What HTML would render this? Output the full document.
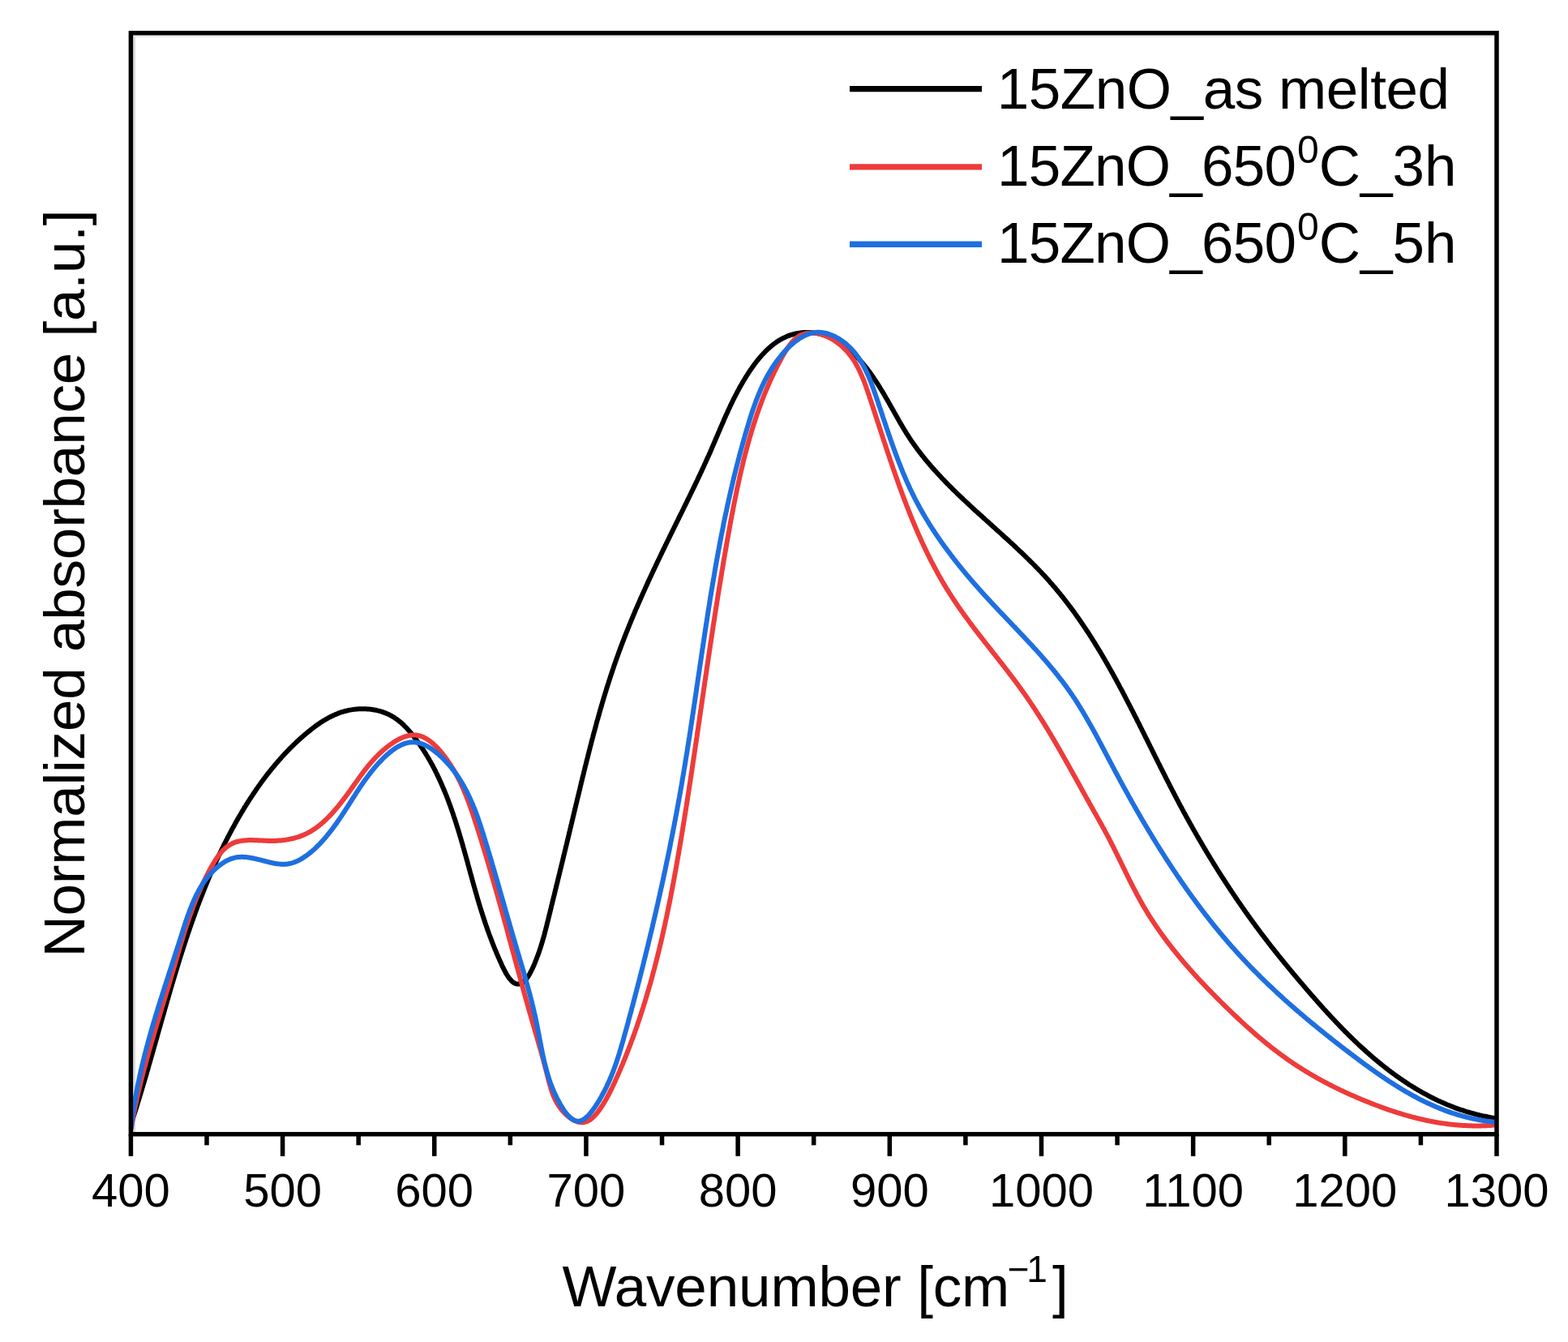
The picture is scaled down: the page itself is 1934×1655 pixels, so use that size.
<!DOCTYPE html>
<html><head><meta charset="utf-8"><title>Normalized absorbance vs wavenumber</title>
<style>
html,body{margin:0;padding:0;background:#fff;}
body{width:1934px;height:1655px;overflow:hidden;}
svg{display:block;}
text{font-family:"Liberation Sans",Arial,Helvetica,sans-serif;fill:#000;}
</style></head><body>
<svg xmlns="http://www.w3.org/2000/svg" width="1934" height="1655" viewBox="0 0 1934 1655">
<rect width="1934" height="1655" fill="#fff"/>
<g fill="none">
<line x1="165.6" y1="43.4" x2="165.6" y2="1396" stroke="#dddddd" stroke-width="3"/>
<line x1="164" y1="44.6" x2="1843" y2="44.6" stroke="#e8e8e8" stroke-width="2.2"/>
</g>
<g fill="none" stroke-linejoin="round" stroke-linecap="butt" stroke-width="6.0">
<path stroke="#000" d="M161.8 1385.7L162.3 1384.3L162.8 1382.9L163.2 1381.5L163.7 1380.1L164.1 1378.7L164.6 1377.2L165.0 1375.8L165.5 1374.4L165.9 1373.0L166.4 1371.6L166.8 1370.2L167.3 1368.7L167.7 1367.3L168.2 1365.9L168.6 1364.5L169.0 1363.1L169.5 1361.6L169.9 1360.2L170.4 1358.8L170.8 1357.4L171.2 1355.9L171.7 1354.5L172.1 1353.1L172.5 1351.6L173.0 1350.2L173.4 1348.8L173.8 1347.4L174.3 1345.9L174.7 1344.5L175.1 1343.1L175.5 1341.6L176.0 1340.2L176.4 1338.8L176.8 1337.3L177.2 1335.9L177.7 1334.5L178.1 1333.0L178.5 1331.6L178.9 1330.2L179.4 1328.7L179.8 1327.3L180.2 1325.9L180.6 1324.4L181.0 1323.0L181.4 1321.5L181.9 1320.1L182.3 1318.7L182.7 1317.2L183.1 1315.8L183.5 1314.3L183.9 1312.9L184.3 1311.5L184.8 1310.0L185.2 1308.6L185.6 1307.1L186.0 1305.7L186.4 1304.2L186.8 1302.8L187.2 1301.4L187.6 1299.9L188.1 1298.5L188.5 1297.0L188.9 1295.6L189.3 1294.1L189.7 1292.7L190.1 1291.2L190.5 1289.8L190.9 1288.4L191.3 1286.9L191.7 1285.5L192.1 1284.0L192.6 1282.6L193.0 1281.1L193.4 1279.7L193.8 1278.2L194.2 1276.8L194.6 1275.3L195.0 1273.9L195.4 1272.4L195.8 1271.0L196.2 1269.5L196.6 1268.1L197.1 1266.6L197.5 1265.2L197.9 1263.7L198.3 1262.3L198.7 1260.9L199.1 1259.4L199.5 1258.0L199.9 1256.5L200.3 1255.1L200.7 1253.6L201.2 1252.2L201.6 1250.7L202.0 1249.3L202.4 1247.8L202.8 1246.4L203.2 1244.9L203.6 1243.5L204.0 1242.0L204.5 1240.6L204.9 1239.1L205.3 1237.7L205.7 1236.2L206.1 1234.8L206.5 1233.3L207.0 1231.9L207.4 1230.5L207.8 1229.0L208.2 1227.6L208.6 1226.1L209.1 1224.7L209.5 1223.2L209.9 1221.8L210.3 1220.3L210.7 1218.9L211.2 1217.4L211.6 1216.0L212.0 1214.6L212.4 1213.1L212.9 1211.7L213.3 1210.2L213.7 1208.8L214.2 1207.3L214.6 1205.9L215.0 1204.5L215.5 1203.0L215.9 1201.6L216.3 1200.1L216.8 1198.7L217.2 1197.3L217.6 1195.8L218.1 1194.4L218.5 1192.9L219.0 1191.5L219.4 1190.1L219.8 1188.6L220.3 1187.2L220.7 1185.8L221.2 1184.3L221.6 1182.9L222.1 1181.4L222.5 1180.0L223.0 1178.6L223.4 1177.1L223.9 1175.7L224.3 1174.3L224.8 1172.8L225.3 1171.4L225.7 1170.0L226.2 1168.6L226.6 1167.1L227.1 1165.7L227.6 1164.3L228.0 1162.8L228.5 1161.4L229.0 1160.0L229.4 1158.6L229.9 1157.1L230.4 1155.7L230.9 1154.3L231.3 1152.9L231.8 1151.4L232.3 1150.0L232.8 1148.6L233.3 1147.2L233.7 1145.8L234.2 1144.3L234.7 1142.9L235.2 1141.5L235.7 1140.1L236.2 1138.7L236.7 1137.3L237.2 1135.8L237.7 1134.4L238.2 1133.0L238.7 1131.6L239.2 1130.2L239.7 1128.8L240.2 1127.4L240.7 1126.0L241.2 1124.6L241.7 1123.2L242.3 1121.7L242.8 1120.3L243.3 1118.9L243.8 1117.5L244.3 1116.1L244.9 1114.7L245.4 1113.3L245.9 1111.9L246.5 1110.5L247.0 1109.1L247.5 1107.7L248.1 1106.3L248.6 1105.0L249.2 1103.6L249.7 1102.2L250.3 1100.8L250.8 1099.4L251.4 1098.0L251.9 1096.6L252.5 1095.2L253.0 1093.8L253.6 1092.5L254.2 1091.1L254.7 1089.7L255.3 1088.3L255.9 1086.9L256.4 1085.5L257.0 1084.2L257.6 1082.8L258.2 1081.4L258.8 1080.0L259.3 1078.7L259.9 1077.3L260.5 1075.9L261.1 1074.6L261.7 1073.2L262.3 1071.8L262.9 1070.5L263.5 1069.1L264.1 1067.7L264.7 1066.4L265.4 1065.0L266.0 1063.6L266.6 1062.3L267.2 1060.9L267.8 1059.6L268.5 1058.2L269.1 1056.9L269.7 1055.5L270.4 1054.2L271.0 1052.8L271.6 1051.5L272.3 1050.1L272.9 1048.8L273.6 1047.4L274.2 1046.1L274.9 1044.8L275.6 1043.4L276.2 1042.1L276.9 1040.7L277.5 1039.4L278.2 1038.1L278.9 1036.7L279.6 1035.4L280.3 1034.1L280.9 1032.8L281.6 1031.4L282.3 1030.1L283.0 1028.8L283.7 1027.5L284.4 1026.1L285.1 1024.8L285.8 1023.5L286.5 1022.2L287.2 1020.9L288.0 1019.6L288.7 1018.3L289.4 1016.9L290.1 1015.6L290.9 1014.3L291.6 1013.0L292.3 1011.7L293.1 1010.4L293.8 1009.1L294.6 1007.8L295.3 1006.5L296.1 1005.2L296.8 1004.0L297.6 1002.7L298.3 1001.4L299.1 1000.1L299.9 998.8L300.7 997.5L301.4 996.2L302.2 995.0L303.0 993.7L303.8 992.4L304.6 991.1L305.4 989.9L306.2 988.6L307.0 987.3L307.8 986.1L308.6 984.8L309.5 983.6L310.3 982.3L311.1 981.1L311.9 979.8L312.8 978.6L313.6 977.3L314.5 976.1L315.3 974.8L316.1 973.6L317.0 972.4L317.9 971.1L318.7 969.9L319.6 968.7L320.5 967.5L321.3 966.2L322.2 965.0L323.1 963.8L324.0 962.6L324.9 961.4L325.8 960.2L326.7 959.0L327.6 957.8L328.5 956.6L329.4 955.4L330.3 954.2L331.3 953.0L332.2 951.9L333.1 950.7L334.1 949.5L335.0 948.4L336.0 947.2L336.9 946.0L337.9 944.9L338.8 943.7L339.8 942.6L340.8 941.4L341.8 940.3L342.7 939.2L343.7 938.0L344.7 936.9L345.7 935.8L346.7 934.7L347.7 933.6L348.7 932.4L349.7 931.3L350.8 930.2L351.8 929.1L352.8 928.1L353.8 927.0L354.9 925.9L355.9 924.8L357.0 923.7L358.0 922.7L359.1 921.6L360.2 920.6L361.2 919.5L362.3 918.5L363.4 917.4L364.5 916.4L365.6 915.3L366.7 914.3L367.8 913.3L368.9 912.3L370.0 911.3L371.1 910.3L372.2 909.3L373.4 908.3L374.5 907.3L375.7 906.3L376.8 905.3L378.0 904.4L379.1 903.4L380.3 902.4L381.5 901.5L382.6 900.5L383.8 899.6L385.0 898.7L386.2 897.7L387.4 896.8L388.6 895.9L389.8 895.0L391.0 894.1L392.3 893.3L393.5 892.4L394.7 891.6L396.0 890.7L397.3 889.9L398.5 889.1L399.8 888.3L401.1 887.6L402.4 886.8L403.7 886.1L405.0 885.4L406.3 884.7L407.6 884.0L409.0 883.3L410.3 882.7L411.7 882.0L413.0 881.4L414.4 880.8L415.8 880.3L417.2 879.7L418.6 879.2L420.0 878.7L421.4 878.2L422.8 877.8L424.3 877.4L425.7 877.0L427.2 876.6L428.7 876.3L430.1 875.9L431.6 875.6L433.1 875.4L434.6 875.1L436.1 874.9L437.7 874.7L439.2 874.6L440.7 874.4L442.2 874.3L443.7 874.3L445.3 874.2L446.8 874.2L448.3 874.2L449.8 874.2L451.4 874.3L452.9 874.4L454.4 874.5L455.9 874.6L457.4 874.8L458.9 875.0L460.4 875.2L461.9 875.5L463.4 875.7L464.9 876.1L466.3 876.4L467.8 876.8L469.2 877.2L470.6 877.6L472.0 878.1L473.4 878.6L474.8 879.1L476.2 879.6L477.5 880.2L478.9 880.8L480.2 881.5L481.5 882.1L482.8 882.8L484.1 883.6L485.3 884.3L486.5 885.1L487.7 885.9L488.9 886.8L490.1 887.6L491.3 888.5L492.4 889.4L493.6 890.4L494.7 891.3L495.8 892.3L496.9 893.3L498.0 894.3L499.0 895.4L500.1 896.4L501.1 897.5L502.1 898.6L503.1 899.7L504.1 900.8L505.1 901.9L506.1 903.0L507.1 904.2L508.0 905.3L509.0 906.5L509.9 907.7L510.8 908.9L511.7 910.1L512.7 911.3L513.6 912.5L514.4 913.7L515.3 914.9L516.2 916.1L517.1 917.3L517.9 918.6L518.8 919.8L519.6 921.1L520.5 922.3L521.3 923.6L522.1 924.8L522.9 926.1L523.7 927.3L524.5 928.6L525.3 929.9L526.1 931.2L526.9 932.5L527.7 933.8L528.4 935.1L529.2 936.4L529.9 937.7L530.7 939.0L531.4 940.3L532.1 941.6L532.9 942.9L533.6 944.2L534.3 945.6L535.0 946.9L535.7 948.2L536.4 949.6L537.0 950.9L537.7 952.3L538.4 953.6L539.0 955.0L539.7 956.3L540.3 957.7L541.0 959.1L541.6 960.4L542.3 961.8L542.9 963.2L543.5 964.6L544.1 965.9L544.7 967.3L545.3 968.7L545.9 970.1L546.5 971.5L547.1 972.9L547.7 974.3L548.3 975.7L548.9 977.1L549.4 978.5L550.0 979.9L550.6 981.3L551.1 982.7L551.7 984.1L552.2 985.5L552.7 986.9L553.3 988.4L553.8 989.8L554.3 991.2L554.9 992.6L555.4 994.1L555.9 995.5L556.4 996.9L556.9 998.3L557.4 999.8L557.9 1001.2L558.4 1002.6L558.9 1004.1L559.4 1005.5L559.8 1006.9L560.3 1008.4L560.8 1009.8L561.3 1011.2L561.7 1012.7L562.2 1014.1L562.7 1015.6L563.1 1017.0L563.6 1018.4L564.0 1019.9L564.5 1021.3L564.9 1022.8L565.4 1024.2L565.8 1025.6L566.2 1027.1L566.7 1028.5L567.1 1030.0L567.5 1031.4L568.0 1032.9L568.4 1034.3L568.8 1035.7L569.2 1037.2L569.6 1038.6L570.1 1040.0L570.5 1041.5L570.9 1042.9L571.3 1044.4L571.7 1045.8L572.1 1047.2L572.5 1048.7L572.9 1050.1L573.3 1051.5L573.7 1053.0L574.1 1054.4L574.5 1055.8L574.9 1057.2L575.3 1058.7L575.7 1060.1L576.1 1061.5L576.5 1062.9L576.9 1064.3L577.2 1065.8L577.6 1067.2L578.0 1068.6L578.4 1070.0L578.8 1071.4L579.2 1072.8L579.6 1074.2L579.9 1075.7L580.3 1077.1L580.7 1078.5L581.1 1079.9L581.5 1081.3L581.9 1082.7L582.3 1084.1L582.6 1085.5L583.0 1086.9L583.4 1088.3L583.8 1089.7L584.2 1091.2L584.6 1092.6L585.0 1094.0L585.4 1095.4L585.8 1096.8L586.2 1098.2L586.6 1099.6L587.0 1101.0L587.4 1102.4L587.8 1103.8L588.2 1105.2L588.6 1106.6L589.0 1108.1L589.4 1109.5L589.9 1110.9L590.3 1112.3L590.7 1113.7L591.1 1115.1L591.6 1116.6L592.0 1118.0L592.4 1119.4L592.9 1120.8L593.3 1122.2L593.8 1123.7L594.2 1125.1L594.7 1126.5L595.1 1127.9L595.6 1129.4L596.0 1130.8L596.5 1132.2L597.0 1133.7L597.5 1135.1L597.9 1136.5L598.4 1138.0L598.9 1139.4L599.4 1140.9L599.9 1142.3L600.4 1143.8L600.9 1145.2L601.4 1146.7L601.9 1148.1L602.5 1149.6L603.0 1151.1L603.5 1152.5L604.1 1154.0L604.6 1155.5L605.2 1156.9L605.7 1158.4L606.3 1159.9L606.9 1161.4L607.4 1162.9L608.0 1164.3L608.6 1165.8L609.2 1167.3L609.8 1168.8L610.4 1170.3L611.0 1171.8L611.7 1173.3L612.3 1174.8L612.9 1176.4L613.6 1177.9L614.2 1179.4L614.9 1180.9L615.6 1182.5L616.2 1184.0L616.9 1185.5L617.6 1187.1L618.3 1188.6L619.0 1190.2L619.7 1191.7L620.4 1193.2L621.2 1194.7L621.9 1196.2L622.7 1197.6L623.4 1199.0L624.2 1200.4L625.0 1201.7L625.8 1203.0L626.6 1204.3L627.4 1205.4L628.3 1206.6L629.1 1207.6L630.0 1208.6L630.8 1209.5L631.7 1210.4L632.6 1211.1L633.5 1211.8L634.4 1212.3L635.4 1212.8L636.3 1213.2L637.3 1213.4L638.3 1213.6L639.2 1213.6L640.2 1213.6L641.2 1213.4L642.1 1213.1L643.1 1212.7L644.0 1212.2L644.9 1211.5L645.8 1210.8L646.7 1210.0L647.6 1209.1L648.4 1208.2L649.3 1207.1L650.1 1206.0L651.0 1204.8L651.8 1203.6L652.6 1202.3L653.4 1200.9L654.1 1199.5L654.9 1198.1L655.6 1196.6L656.4 1195.1L657.1 1193.6L657.8 1192.1L658.4 1190.5L659.1 1189.0L659.8 1187.4L660.4 1185.8L661.0 1184.3L661.6 1182.7L662.2 1181.2L662.8 1179.7L663.4 1178.1L663.9 1176.6L664.5 1175.1L665.0 1173.6L665.5 1172.1L666.0 1170.6L666.5 1169.1L667.0 1167.6L667.4 1166.1L667.9 1164.7L668.3 1163.2L668.8 1161.7L669.2 1160.3L669.6 1158.8L670.1 1157.3L670.5 1155.9L670.9 1154.4L671.3 1153.0L671.7 1151.6L672.0 1150.1L672.4 1148.7L672.8 1147.2L673.2 1145.8L673.5 1144.4L673.9 1142.9L674.3 1141.5L674.6 1140.1L675.0 1138.6L675.3 1137.2L675.7 1135.8L676.0 1134.4L676.4 1132.9L676.7 1131.5L677.1 1130.1L677.4 1128.6L677.8 1127.2L678.2 1125.8L678.5 1124.3L678.9 1122.9L679.2 1121.5L679.6 1120.0L679.9 1118.6L680.3 1117.1L680.6 1115.7L681.0 1114.3L681.3 1112.8L681.7 1111.4L682.0 1109.9L682.4 1108.5L682.7 1107.1L683.1 1105.6L683.5 1104.2L683.8 1102.7L684.2 1101.3L684.5 1099.8L684.9 1098.4L685.2 1096.9L685.6 1095.5L685.9 1094.1L686.3 1092.6L686.6 1091.2L687.0 1089.7L687.4 1088.3L687.7 1086.8L688.1 1085.4L688.4 1083.9L688.8 1082.5L689.1 1081.0L689.5 1079.6L689.8 1078.1L690.2 1076.7L690.5 1075.2L690.9 1073.8L691.2 1072.3L691.6 1070.8L692.0 1069.4L692.3 1067.9L692.7 1066.5L693.0 1065.0L693.4 1063.6L693.7 1062.1L694.1 1060.7L694.4 1059.2L694.8 1057.8L695.1 1056.3L695.5 1054.8L695.8 1053.4L696.2 1051.9L696.5 1050.5L696.9 1049.0L697.3 1047.5L697.6 1046.1L698.0 1044.6L698.3 1043.2L698.7 1041.7L699.0 1040.2L699.4 1038.8L699.7 1037.3L700.1 1035.9L700.4 1034.4L700.8 1032.9L701.1 1031.5L701.5 1030.0L701.8 1028.6L702.2 1027.1L702.5 1025.6L702.9 1024.2L703.2 1022.7L703.6 1021.2L703.9 1019.8L704.3 1018.3L704.6 1016.9L705.0 1015.4L705.3 1013.9L705.7 1012.5L706.0 1011.0L706.4 1009.5L706.7 1008.1L707.1 1006.6L707.4 1005.1L707.8 1003.7L708.1 1002.2L708.5 1000.8L708.8 999.3L709.2 997.8L709.5 996.4L709.9 994.9L710.2 993.4L710.6 992.0L710.9 990.5L711.3 989.0L711.6 987.6L712.0 986.1L712.3 984.6L712.7 983.2L713.0 981.7L713.4 980.2L713.8 978.8L714.1 977.3L714.5 975.9L714.8 974.4L715.2 972.9L715.5 971.5L715.9 970.0L716.2 968.5L716.6 967.1L716.9 965.6L717.3 964.1L717.6 962.7L718.0 961.2L718.3 959.8L718.7 958.3L719.1 956.8L719.4 955.4L719.8 953.9L720.1 952.4L720.5 951.0L720.9 949.5L721.2 948.1L721.6 946.6L721.9 945.1L722.3 943.7L722.7 942.2L723.0 940.7L723.4 939.3L723.8 937.8L724.1 936.4L724.5 934.9L724.9 933.4L725.2 932.0L725.6 930.5L726.0 929.1L726.3 927.6L726.7 926.2L727.1 924.7L727.5 923.2L727.8 921.8L728.2 920.3L728.6 918.9L729.0 917.4L729.3 916.0L729.7 914.5L730.1 913.0L730.5 911.6L730.9 910.1L731.3 908.7L731.6 907.2L732.0 905.8L732.4 904.3L732.8 902.9L733.2 901.4L733.6 900.0L734.0 898.5L734.4 897.1L734.8 895.6L735.2 894.2L735.5 892.7L735.9 891.3L736.3 889.8L736.7 888.4L737.2 886.9L737.6 885.5L738.0 884.0L738.4 882.6L738.8 881.2L739.2 879.7L739.6 878.3L740.0 876.8L740.4 875.4L740.8 873.9L741.3 872.5L741.7 871.1L742.1 869.6L742.5 868.2L742.9 866.7L743.4 865.3L743.8 863.9L744.2 862.4L744.6 861.0L745.1 859.6L745.5 858.1L745.9 856.7L746.4 855.3L746.8 853.8L747.3 852.4L747.7 851.0L748.1 849.5L748.6 848.1L749.0 846.7L749.5 845.2L749.9 843.8L750.4 842.4L750.8 841.0L751.3 839.5L751.8 838.1L752.2 836.7L752.7 835.3L753.2 833.8L753.6 832.4L754.1 831.0L754.6 829.6L755.0 828.2L755.5 826.7L756.0 825.3L756.5 823.9L756.9 822.5L757.4 821.1L757.9 819.7L758.4 818.2L758.9 816.8L759.4 815.4L759.9 814.0L760.4 812.6L760.9 811.2L761.4 809.8L761.9 808.4L762.4 807.0L762.9 805.6L763.4 804.2L763.9 802.8L764.4 801.4L765.0 800.0L765.5 798.6L766.0 797.2L766.5 795.8L767.1 794.4L767.6 793.0L768.1 791.6L768.7 790.2L769.2 788.8L769.7 787.4L770.3 786.0L770.8 784.6L771.4 783.2L771.9 781.8L772.4 780.4L773.0 779.0L773.6 777.6L774.1 776.3L774.7 774.9L775.2 773.5L775.8 772.1L776.3 770.7L776.9 769.3L777.5 768.0L778.0 766.6L778.6 765.2L779.2 763.8L779.8 762.4L780.3 761.0L780.9 759.7L781.5 758.3L782.1 756.9L782.7 755.5L783.2 754.2L783.8 752.8L784.4 751.4L785.0 750.0L785.6 748.7L786.2 747.3L786.8 745.9L787.4 744.5L788.0 743.2L788.6 741.8L789.2 740.4L789.8 739.1L790.4 737.7L791.0 736.3L791.6 735.0L792.2 733.6L792.8 732.2L793.4 730.9L794.0 729.5L794.7 728.1L795.3 726.8L795.9 725.4L796.5 724.0L797.1 722.7L797.8 721.3L798.4 719.9L799.0 718.6L799.6 717.2L800.2 715.8L800.9 714.5L801.5 713.1L802.1 711.8L802.8 710.4L803.4 709.0L804.0 707.7L804.7 706.3L805.3 705.0L805.9 703.6L806.6 702.2L807.2 700.9L807.9 699.5L808.5 698.2L809.1 696.8L809.8 695.5L810.4 694.1L811.1 692.7L811.7 691.4L812.4 690.0L813.0 688.7L813.7 687.3L814.3 686.0L815.0 684.6L815.6 683.3L816.3 681.9L816.9 680.5L817.6 679.2L818.2 677.8L818.9 676.5L819.5 675.1L820.2 673.8L820.8 672.4L821.5 671.1L822.2 669.7L822.8 668.4L823.5 667.0L824.1 665.6L824.8 664.3L825.5 662.9L826.1 661.6L826.8 660.2L827.4 658.9L828.1 657.5L828.8 656.2L829.4 654.8L830.1 653.5L830.8 652.1L831.4 650.8L832.1 649.4L832.8 648.1L833.4 646.7L834.1 645.3L834.8 644.0L835.4 642.6L836.1 641.3L836.8 639.9L837.4 638.6L838.1 637.2L838.8 635.9L839.4 634.5L840.1 633.2L840.8 631.8L841.4 630.5L842.1 629.1L842.8 627.8L843.4 626.4L844.1 625.0L844.8 623.7L845.4 622.3L846.1 621.0L846.8 619.6L847.4 618.3L848.1 616.9L848.7 615.6L849.4 614.2L850.1 612.9L850.7 611.5L851.4 610.1L852.0 608.8L852.7 607.4L853.3 606.1L854.0 604.7L854.7 603.4L855.3 602.0L856.0 600.7L856.6 599.3L857.3 597.9L857.9 596.6L858.6 595.2L859.2 593.9L859.9 592.5L860.5 591.2L861.1 589.8L861.8 588.4L862.4 587.1L863.1 585.7L863.7 584.4L864.3 583.0L865.0 581.7L865.6 580.3L866.2 578.9L866.9 577.6L867.5 576.2L868.1 574.9L868.7 573.5L869.4 572.1L870.0 570.8L870.6 569.4L871.2 568.1L871.8 566.7L872.4 565.3L873.0 564.0L873.7 562.6L874.3 561.3L874.9 559.9L875.5 558.5L876.1 557.2L876.7 555.8L877.3 554.4L877.9 553.1L878.4 551.7L879.0 550.4L879.6 549.0L880.2 547.6L880.8 546.3L881.4 544.9L882.0 543.5L882.5 542.2L883.1 540.8L883.7 539.4L884.3 538.1L884.9 536.7L885.4 535.4L886.0 534.0L886.6 532.6L887.2 531.3L887.8 529.9L888.3 528.5L888.9 527.2L889.5 525.8L890.1 524.5L890.7 523.1L891.3 521.7L891.9 520.4L892.5 519.0L893.0 517.7L893.6 516.3L894.2 515.0L894.8 513.6L895.4 512.2L896.1 510.9L896.7 509.5L897.3 508.2L897.9 506.8L898.5 505.5L899.1 504.1L899.8 502.8L900.4 501.4L901.0 500.1L901.7 498.7L902.3 497.4L903.0 496.1L903.6 494.7L904.3 493.4L904.9 492.0L905.6 490.7L906.3 489.4L907.0 488.0L907.7 486.7L908.4 485.4L909.1 484.0L909.8 482.7L910.5 481.4L911.2 480.1L911.9 478.7L912.6 477.4L913.4 476.1L914.1 474.8L914.9 473.5L915.7 472.1L916.4 470.8L917.2 469.5L918.0 468.2L918.8 466.9L919.6 465.6L920.4 464.3L921.2 463.0L922.0 461.7L922.9 460.4L923.7 459.1L924.6 457.8L925.4 456.5L926.3 455.2L927.2 454.0L928.1 452.7L929.0 451.4L929.9 450.2L930.8 448.9L931.8 447.7L932.7 446.4L933.7 445.2L934.6 444.0L935.6 442.8L936.6 441.6L937.6 440.4L938.6 439.3L939.6 438.1L940.7 437.0L941.7 435.9L942.8 434.8L943.8 433.7L944.9 432.6L946.0 431.5L947.1 430.5L948.2 429.5L949.3 428.5L950.5 427.5L951.6 426.5L952.8 425.6L953.9 424.7L955.1 423.8L956.3 422.9L957.5 422.1L958.7 421.2L960.0 420.4L961.2 419.7L962.5 418.9L963.8 418.2L965.0 417.5L966.3 416.8L967.7 416.2L969.0 415.6L970.3 415.0L971.7 414.4L973.0 413.9L974.4 413.4L975.8 413.0L977.2 412.6L978.6 412.2L980.1 411.8L981.5 411.5L983.0 411.2L984.4 410.9L985.9 410.7L987.4 410.5L988.9 410.3L990.3 410.2L991.8 410.1L993.3 410.0L994.8 410.0L996.3 410.0L997.8 410.0L999.3 410.1L1000.8 410.2L1002.3 410.3L1003.7 410.4L1005.2 410.6L1006.7 410.8L1008.1 411.1L1009.6 411.3L1011.0 411.6L1012.4 412.0L1013.8 412.3L1015.2 412.7L1016.6 413.1L1018.0 413.6L1019.4 414.1L1020.7 414.6L1022.1 415.1L1023.4 415.7L1024.8 416.2L1026.1 416.8L1027.4 417.5L1028.7 418.1L1030.0 418.8L1031.3 419.5L1032.5 420.2L1033.8 421.0L1035.0 421.8L1036.3 422.5L1037.5 423.4L1038.7 424.2L1039.9 425.1L1041.1 425.9L1042.3 426.8L1043.5 427.7L1044.7 428.7L1045.8 429.6L1047.0 430.6L1048.1 431.6L1049.2 432.6L1050.4 433.6L1051.5 434.6L1052.6 435.7L1053.7 436.7L1054.7 437.8L1055.8 438.9L1056.9 440.0L1057.9 441.2L1059.0 442.3L1060.0 443.4L1061.1 444.6L1062.1 445.8L1063.1 446.9L1064.1 448.1L1065.1 449.3L1066.1 450.5L1067.1 451.8L1068.0 453.0L1069.0 454.2L1069.9 455.5L1070.9 456.7L1071.8 458.0L1072.8 459.2L1073.7 460.5L1074.6 461.8L1075.5 463.1L1076.4 464.3L1077.3 465.6L1078.1 466.9L1079.0 468.2L1079.9 469.5L1080.7 470.8L1081.6 472.1L1082.4 473.4L1083.3 474.7L1084.1 476.0L1084.9 477.3L1085.7 478.7L1086.5 480.0L1087.3 481.3L1088.1 482.6L1088.9 483.9L1089.7 485.2L1090.4 486.5L1091.2 487.8L1092.0 489.2L1092.7 490.5L1093.5 491.8L1094.3 493.1L1095.0 494.4L1095.8 495.7L1096.5 497.0L1097.3 498.4L1098.0 499.7L1098.7 501.0L1099.5 502.3L1100.2 503.6L1101.0 504.9L1101.7 506.2L1102.4 507.5L1103.2 508.8L1103.9 510.1L1104.6 511.4L1105.4 512.7L1106.1 514.0L1106.8 515.3L1107.6 516.6L1108.3 517.9L1109.0 519.2L1109.8 520.5L1110.5 521.8L1111.3 523.0L1112.0 524.3L1112.8 525.6L1113.5 526.9L1114.3 528.1L1115.0 529.4L1115.8 530.7L1116.6 531.9L1117.4 533.2L1118.1 534.4L1118.9 535.7L1119.7 536.9L1120.5 538.2L1121.3 539.4L1122.1 540.6L1122.9 541.8L1123.8 543.1L1124.6 544.3L1125.4 545.5L1126.3 546.7L1127.1 547.9L1128.0 549.1L1128.8 550.3L1129.7 551.5L1130.6 552.7L1131.4 553.9L1132.3 555.1L1133.2 556.2L1134.1 557.4L1135.0 558.6L1135.9 559.7L1136.8 560.9L1137.7 562.1L1138.7 563.2L1139.6 564.4L1140.5 565.5L1141.4 566.7L1142.4 567.8L1143.3 568.9L1144.3 570.1L1145.2 571.2L1146.2 572.3L1147.2 573.5L1148.1 574.6L1149.1 575.7L1150.1 576.8L1151.1 577.9L1152.0 579.0L1153.0 580.1L1154.0 581.2L1155.0 582.3L1156.0 583.4L1157.0 584.5L1158.0 585.6L1159.1 586.7L1160.1 587.8L1161.1 588.9L1162.1 590.0L1163.1 591.0L1164.2 592.1L1165.2 593.2L1166.3 594.3L1167.3 595.3L1168.3 596.4L1169.4 597.5L1170.4 598.5L1171.5 599.6L1172.6 600.7L1173.6 601.7L1174.7 602.8L1175.7 603.8L1176.8 604.9L1177.9 605.9L1179.0 607.0L1180.0 608.0L1181.1 609.1L1182.2 610.1L1183.3 611.2L1184.4 612.2L1185.5 613.2L1186.6 614.3L1187.7 615.3L1188.7 616.4L1189.8 617.4L1190.9 618.4L1192.0 619.4L1193.2 620.5L1194.3 621.5L1195.4 622.5L1196.5 623.6L1197.6 624.6L1198.7 625.6L1199.8 626.6L1200.9 627.7L1202.0 628.7L1203.1 629.7L1204.3 630.7L1205.4 631.7L1206.5 632.8L1207.6 633.8L1208.7 634.8L1209.9 635.8L1211.0 636.8L1212.1 637.8L1213.2 638.9L1214.4 639.9L1215.5 640.9L1216.6 641.9L1217.7 642.9L1218.9 643.9L1220.0 644.9L1221.1 646.0L1222.3 647.0L1223.4 648.0L1224.5 649.0L1225.6 650.0L1226.8 651.0L1227.9 652.0L1229.0 653.1L1230.1 654.1L1231.3 655.1L1232.4 656.1L1233.5 657.1L1234.6 658.1L1235.8 659.2L1236.9 660.2L1238.0 661.2L1239.1 662.2L1240.2 663.2L1241.4 664.3L1242.5 665.3L1243.6 666.3L1244.7 667.3L1245.8 668.4L1246.9 669.4L1248.1 670.4L1249.2 671.4L1250.3 672.5L1251.4 673.5L1252.5 674.5L1253.6 675.6L1254.7 676.6L1255.8 677.6L1256.9 678.7L1258.0 679.7L1259.1 680.7L1260.2 681.8L1261.3 682.8L1262.4 683.9L1263.4 684.9L1264.5 686.0L1265.6 687.0L1266.7 688.1L1267.8 689.1L1268.8 690.2L1269.9 691.2L1271.0 692.3L1272.0 693.3L1273.1 694.4L1274.2 695.5L1275.2 696.5L1276.3 697.6L1277.3 698.7L1278.4 699.7L1279.4 700.8L1280.5 701.9L1281.5 703.0L1282.5 704.1L1283.6 705.1L1284.6 706.2L1285.6 707.3L1286.6 708.4L1287.7 709.5L1288.7 710.6L1289.7 711.7L1290.7 712.8L1291.7 713.9L1292.7 715.0L1293.7 716.1L1294.7 717.3L1295.6 718.4L1296.6 719.5L1297.6 720.6L1298.6 721.7L1299.5 722.9L1300.5 724.0L1301.5 725.1L1302.4 726.3L1303.4 727.4L1304.3 728.6L1305.3 729.7L1306.2 730.9L1307.2 732.0L1308.1 733.2L1309.0 734.3L1310.0 735.5L1310.9 736.6L1311.8 737.8L1312.7 739.0L1313.6 740.1L1314.5 741.3L1315.4 742.5L1316.3 743.7L1317.2 744.8L1318.1 746.0L1319.0 747.2L1319.9 748.4L1320.8 749.6L1321.7 750.8L1322.6 752.0L1323.5 753.1L1324.3 754.3L1325.2 755.5L1326.1 756.7L1326.9 758.0L1327.8 759.2L1328.6 760.4L1329.5 761.6L1330.4 762.8L1331.2 764.0L1332.0 765.2L1332.9 766.4L1333.7 767.7L1334.6 768.9L1335.4 770.1L1336.2 771.3L1337.1 772.6L1337.9 773.8L1338.7 775.0L1339.5 776.3L1340.3 777.5L1341.2 778.8L1342.0 780.0L1342.8 781.2L1343.6 782.5L1344.4 783.7L1345.2 785.0L1346.0 786.2L1346.8 787.5L1347.6 788.7L1348.4 790.0L1349.2 791.3L1350.0 792.5L1350.7 793.8L1351.5 795.1L1352.3 796.3L1353.1 797.6L1353.8 798.9L1354.6 800.1L1355.4 801.4L1356.2 802.7L1356.9 804.0L1357.7 805.2L1358.5 806.5L1359.2 807.8L1360.0 809.1L1360.7 810.4L1361.5 811.6L1362.2 812.9L1363.0 814.2L1363.7 815.5L1364.5 816.8L1365.2 818.1L1366.0 819.4L1366.7 820.7L1367.4 822.0L1368.2 823.3L1368.9 824.6L1369.6 825.9L1370.4 827.2L1371.1 828.5L1371.8 829.8L1372.6 831.1L1373.3 832.4L1374.0 833.7L1374.7 835.0L1375.4 836.3L1376.2 837.6L1376.9 839.0L1377.6 840.3L1378.3 841.6L1379.0 842.9L1379.7 844.2L1380.4 845.5L1381.1 846.9L1381.8 848.2L1382.6 849.5L1383.3 850.8L1384.0 852.2L1384.7 853.5L1385.4 854.8L1386.1 856.1L1386.8 857.5L1387.5 858.8L1388.1 860.1L1388.8 861.4L1389.5 862.8L1390.2 864.1L1390.9 865.4L1391.6 866.8L1392.3 868.1L1393.0 869.4L1393.7 870.8L1394.4 872.1L1395.0 873.5L1395.7 874.8L1396.4 876.1L1397.1 877.5L1397.8 878.8L1398.5 880.2L1399.1 881.5L1399.8 882.8L1400.5 884.2L1401.2 885.5L1401.9 886.9L1402.5 888.2L1403.2 889.6L1403.9 890.9L1404.6 892.2L1405.3 893.6L1405.9 894.9L1406.6 896.3L1407.3 897.6L1408.0 899.0L1408.6 900.3L1409.3 901.7L1410.0 903.0L1410.6 904.4L1411.3 905.7L1412.0 907.1L1412.7 908.4L1413.3 909.8L1414.0 911.1L1414.7 912.5L1415.4 913.8L1416.0 915.2L1416.7 916.5L1417.4 917.9L1418.0 919.2L1418.7 920.6L1419.4 921.9L1420.1 923.3L1420.7 924.6L1421.4 926.0L1422.1 927.3L1422.7 928.7L1423.4 930.1L1424.1 931.4L1424.8 932.8L1425.4 934.1L1426.1 935.5L1426.8 936.8L1427.5 938.2L1428.1 939.5L1428.8 940.9L1429.5 942.2L1430.2 943.6L1430.8 944.9L1431.5 946.3L1432.2 947.6L1432.9 949.0L1433.6 950.3L1434.2 951.7L1434.9 953.0L1435.6 954.4L1436.3 955.7L1437.0 957.1L1437.6 958.4L1438.3 959.8L1439.0 961.1L1439.7 962.5L1440.4 963.8L1441.1 965.1L1441.8 966.5L1442.4 967.8L1443.1 969.2L1443.8 970.5L1444.5 971.9L1445.2 973.2L1445.9 974.6L1446.6 975.9L1447.3 977.2L1448.0 978.6L1448.7 979.9L1449.4 981.3L1450.1 982.6L1450.8 983.9L1451.5 985.3L1452.2 986.6L1452.9 987.9L1453.6 989.3L1454.3 990.6L1455.0 991.9L1455.7 993.3L1456.4 994.6L1457.2 995.9L1457.9 997.3L1458.6 998.6L1459.3 999.9L1460.0 1001.3L1460.7 1002.6L1461.5 1003.9L1462.2 1005.2L1462.9 1006.6L1463.6 1007.9L1464.4 1009.2L1465.1 1010.5L1465.8 1011.8L1466.6 1013.2L1467.3 1014.5L1468.0 1015.8L1468.8 1017.1L1469.5 1018.4L1470.3 1019.7L1471.0 1021.1L1471.7 1022.4L1472.5 1023.7L1473.2 1025.0L1474.0 1026.3L1474.7 1027.6L1475.5 1028.9L1476.2 1030.2L1477.0 1031.5L1477.7 1032.8L1478.5 1034.1L1479.2 1035.4L1480.0 1036.7L1480.8 1038.0L1481.5 1039.3L1482.3 1040.6L1483.0 1041.9L1483.8 1043.2L1484.6 1044.5L1485.3 1045.8L1486.1 1047.1L1486.9 1048.4L1487.7 1049.7L1488.4 1051.0L1489.2 1052.3L1490.0 1053.6L1490.8 1054.9L1491.5 1056.1L1492.3 1057.4L1493.1 1058.7L1493.9 1060.0L1494.7 1061.3L1495.5 1062.6L1496.2 1063.8L1497.0 1065.1L1497.8 1066.4L1498.6 1067.7L1499.4 1068.9L1500.2 1070.2L1501.0 1071.5L1501.8 1072.8L1502.6 1074.0L1503.4 1075.3L1504.2 1076.6L1505.0 1077.8L1505.8 1079.1L1506.6 1080.4L1507.4 1081.6L1508.2 1082.9L1509.1 1084.1L1509.9 1085.4L1510.7 1086.7L1511.5 1087.9L1512.3 1089.2L1513.1 1090.4L1514.0 1091.7L1514.8 1092.9L1515.6 1094.2L1516.4 1095.4L1517.2 1096.7L1518.1 1097.9L1518.9 1099.2L1519.7 1100.4L1520.6 1101.7L1521.4 1102.9L1522.2 1104.1L1523.1 1105.4L1523.9 1106.6L1524.7 1107.9L1525.6 1109.1L1526.4 1110.3L1527.3 1111.6L1528.1 1112.8L1529.0 1114.0L1529.8 1115.2L1530.7 1116.5L1531.5 1117.7L1532.4 1118.9L1533.2 1120.1L1534.1 1121.4L1534.9 1122.6L1535.8 1123.8L1536.6 1125.0L1537.5 1126.2L1538.4 1127.4L1539.2 1128.7L1540.1 1129.9L1541.0 1131.1L1541.8 1132.3L1542.7 1133.5L1543.6 1134.7L1544.4 1135.9L1545.3 1137.1L1546.2 1138.3L1547.1 1139.5L1547.9 1140.7L1548.8 1141.9L1549.7 1143.1L1550.6 1144.3L1551.5 1145.5L1552.3 1146.7L1553.2 1147.8L1554.1 1149.0L1555.0 1150.2L1555.9 1151.4L1556.8 1152.6L1557.7 1153.8L1558.6 1154.9L1559.5 1156.1L1560.4 1157.3L1561.3 1158.5L1562.2 1159.6L1563.1 1160.8L1564.0 1162.0L1564.9 1163.2L1565.8 1164.3L1566.7 1165.5L1567.6 1166.7L1568.5 1167.8L1569.4 1169.0L1570.4 1170.1L1571.3 1171.3L1572.2 1172.5L1573.1 1173.6L1574.0 1174.8L1575.0 1175.9L1575.9 1177.1L1576.8 1178.2L1577.7 1179.4L1578.7 1180.5L1579.6 1181.7L1580.5 1182.8L1581.4 1184.0L1582.4 1185.1L1583.3 1186.3L1584.3 1187.4L1585.2 1188.6L1586.1 1189.7L1587.1 1190.9L1588.0 1192.0L1589.0 1193.2L1589.9 1194.3L1590.8 1195.4L1591.8 1196.6L1592.7 1197.7L1593.7 1198.9L1594.6 1200.0L1595.6 1201.2L1596.6 1202.3L1597.5 1203.4L1598.5 1204.6L1599.4 1205.7L1600.4 1206.9L1601.3 1208.0L1602.3 1209.1L1603.3 1210.3L1604.2 1211.4L1605.2 1212.5L1606.2 1213.7L1607.2 1214.8L1608.1 1216.0L1609.1 1217.1L1610.1 1218.2L1611.0 1219.4L1612.0 1220.5L1613.0 1221.7L1614.0 1222.8L1615.0 1223.9L1616.0 1225.1L1616.9 1226.2L1617.9 1227.3L1618.9 1228.5L1619.9 1229.6L1620.9 1230.7L1621.9 1231.9L1622.9 1233.0L1623.9 1234.1L1624.9 1235.3L1625.9 1236.4L1626.9 1237.5L1627.9 1238.7L1628.9 1239.8L1629.9 1240.9L1630.9 1242.0L1631.9 1243.2L1632.9 1244.3L1634.0 1245.4L1635.0 1246.5L1636.0 1247.6L1637.0 1248.8L1638.0 1249.9L1639.1 1251.0L1640.1 1252.1L1641.1 1253.2L1642.1 1254.3L1643.2 1255.4L1644.2 1256.5L1645.2 1257.6L1646.3 1258.7L1647.3 1259.8L1648.4 1260.9L1649.4 1262.0L1650.5 1263.1L1651.5 1264.2L1652.6 1265.3L1653.6 1266.4L1654.7 1267.5L1655.7 1268.6L1656.8 1269.6L1657.8 1270.7L1658.9 1271.8L1660.0 1272.9L1661.0 1273.9L1662.1 1275.0L1663.2 1276.1L1664.2 1277.1L1665.3 1278.2L1666.4 1279.3L1667.5 1280.3L1668.6 1281.4L1669.7 1282.4L1670.7 1283.5L1671.8 1284.5L1672.9 1285.5L1674.0 1286.6L1675.1 1287.6L1676.2 1288.7L1677.3 1289.7L1678.4 1290.7L1679.5 1291.7L1680.6 1292.8L1681.8 1293.8L1682.9 1294.8L1684.0 1295.8L1685.1 1296.8L1686.2 1297.8L1687.4 1298.8L1688.5 1299.8L1689.6 1300.8L1690.7 1301.8L1691.9 1302.8L1693.0 1303.7L1694.2 1304.7L1695.3 1305.7L1696.4 1306.6L1697.6 1307.6L1698.7 1308.6L1699.9 1309.5L1701.1 1310.5L1702.2 1311.4L1703.4 1312.4L1704.5 1313.3L1705.7 1314.2L1706.9 1315.2L1708.1 1316.1L1709.2 1317.0L1710.4 1317.9L1711.6 1318.9L1712.8 1319.8L1714.0 1320.7L1715.2 1321.6L1716.3 1322.5L1717.5 1323.3L1718.7 1324.2L1719.9 1325.1L1721.2 1326.0L1722.4 1326.9L1723.6 1327.7L1724.8 1328.6L1726.0 1329.4L1727.2 1330.3L1728.4 1331.1L1729.7 1332.0L1730.9 1332.8L1732.1 1333.6L1733.4 1334.5L1734.6 1335.3L1735.9 1336.1L1737.1 1336.9L1738.3 1337.7L1739.6 1338.5L1740.9 1339.3L1742.1 1340.1L1743.4 1340.8L1744.6 1341.6L1745.9 1342.4L1747.2 1343.1L1748.4 1343.9L1749.7 1344.7L1751.0 1345.4L1752.3 1346.1L1753.6 1346.9L1754.9 1347.6L1756.2 1348.3L1757.5 1349.0L1758.8 1349.7L1760.1 1350.4L1761.4 1351.1L1762.7 1351.8L1764.0 1352.5L1765.3 1353.2L1766.6 1353.8L1768.0 1354.5L1769.3 1355.2L1770.6 1355.8L1772.0 1356.4L1773.3 1357.1L1774.6 1357.7L1776.0 1358.3L1777.3 1358.9L1778.7 1359.5L1780.0 1360.1L1781.4 1360.7L1782.8 1361.3L1784.1 1361.9L1785.5 1362.5L1786.9 1363.0L1788.3 1363.6L1789.7 1364.1L1791.0 1364.7L1792.4 1365.2L1793.8 1365.8L1795.2 1366.3L1796.6 1366.8L1798.0 1367.3L1799.4 1367.8L1800.9 1368.3L1802.3 1368.8L1803.7 1369.2L1805.1 1369.7L1806.5 1370.2L1808.0 1370.6L1809.4 1371.1L1810.9 1371.5L1812.3 1371.9L1813.8 1372.3L1815.2 1372.7L1816.7 1373.1L1818.1 1373.5L1819.6 1373.9L1821.1 1374.3L1822.5 1374.7L1824.0 1375.0L1825.5 1375.4L1827.0 1375.7L1828.5 1376.1L1830.0 1376.4L1831.5 1376.7L1833.0 1377.0L1834.5 1377.3L1836.0 1377.6L1837.5 1377.9L1839.0 1378.2L1840.5 1378.4L1842.1 1378.7L1843.6 1378.9L1845.1 1379.2"/>
<path stroke="#ee3b3b" d="M161.6 1393.0L161.9 1391.5L162.1 1390.1L162.3 1388.6L162.6 1387.1L162.8 1385.7L163.1 1384.2L163.3 1382.7L163.6 1381.3L163.8 1379.8L164.1 1378.3L164.4 1376.9L164.6 1375.4L164.9 1374.0L165.2 1372.5L165.5 1371.0L165.8 1369.6L166.1 1368.1L166.4 1366.6L166.7 1365.2L167.0 1363.7L167.3 1362.3L167.6 1360.8L167.9 1359.3L168.2 1357.9L168.5 1356.4L168.8 1354.9L169.2 1353.5L169.5 1352.0L169.8 1350.6L170.1 1349.1L170.5 1347.6L170.8 1346.2L171.2 1344.7L171.5 1343.3L171.8 1341.8L172.2 1340.3L172.5 1338.9L172.9 1337.4L173.3 1336.0L173.6 1334.5L174.0 1333.0L174.3 1331.6L174.7 1330.1L175.1 1328.7L175.4 1327.2L175.8 1325.7L176.2 1324.3L176.6 1322.8L176.9 1321.4L177.3 1319.9L177.7 1318.4L178.1 1317.0L178.5 1315.5L178.9 1314.1L179.3 1312.6L179.7 1311.2L180.1 1309.7L180.5 1308.2L180.9 1306.8L181.3 1305.3L181.7 1303.9L182.1 1302.4L182.5 1301.0L182.9 1299.5L183.3 1298.1L183.7 1296.6L184.1 1295.1L184.5 1293.7L184.9 1292.2L185.4 1290.8L185.8 1289.3L186.2 1287.9L186.6 1286.4L187.0 1285.0L187.5 1283.5L187.9 1282.1L188.3 1280.6L188.7 1279.2L189.2 1277.7L189.6 1276.3L190.0 1274.8L190.5 1273.4L190.9 1271.9L191.3 1270.5L191.7 1269.0L192.2 1267.6L192.6 1266.1L193.0 1264.7L193.5 1263.2L193.9 1261.8L194.3 1260.3L194.8 1258.9L195.2 1257.4L195.7 1256.0L196.1 1254.5L196.5 1253.1L197.0 1251.6L197.4 1250.2L197.8 1248.8L198.3 1247.3L198.7 1245.9L199.2 1244.4L199.6 1243.0L200.0 1241.5L200.5 1240.1L200.9 1238.7L201.4 1237.2L201.8 1235.8L202.2 1234.3L202.7 1232.9L203.1 1231.5L203.5 1230.0L204.0 1228.6L204.4 1227.2L204.8 1225.7L205.3 1224.3L205.7 1222.8L206.2 1221.4L206.6 1220.0L207.0 1218.5L207.5 1217.1L207.9 1215.7L208.3 1214.2L208.7 1212.8L209.2 1211.4L209.6 1209.9L210.0 1208.5L210.5 1207.1L210.9 1205.6L211.3 1204.2L211.7 1202.8L212.1 1201.4L212.6 1199.9L213.0 1198.5L213.4 1197.1L213.8 1195.6L214.2 1194.2L214.7 1192.8L215.1 1191.4L215.5 1189.9L215.9 1188.5L216.3 1187.1L216.7 1185.7L217.1 1184.2L217.6 1182.8L218.0 1181.4L218.4 1180.0L218.8 1178.6L219.2 1177.1L219.6 1175.7L220.0 1174.3L220.5 1172.9L220.9 1171.5L221.3 1170.0L221.7 1168.6L222.1 1167.2L222.5 1165.8L223.0 1164.4L223.4 1163.0L223.8 1161.6L224.2 1160.1L224.7 1158.7L225.1 1157.3L225.5 1155.9L226.0 1154.5L226.4 1153.1L226.9 1151.7L227.3 1150.3L227.7 1148.8L228.2 1147.4L228.6 1146.0L229.1 1144.6L229.5 1143.2L230.0 1141.8L230.5 1140.4L230.9 1139.0L231.4 1137.6L231.9 1136.2L232.3 1134.8L232.8 1133.4L233.3 1132.0L233.8 1130.6L234.3 1129.1L234.8 1127.7L235.3 1126.3L235.8 1124.9L236.3 1123.5L236.8 1122.1L237.3 1120.7L237.8 1119.3L238.4 1117.9L238.9 1116.5L239.4 1115.1L240.0 1113.7L240.5 1112.3L241.1 1110.9L241.6 1109.5L242.2 1108.1L242.7 1106.7L243.3 1105.4L243.9 1104.0L244.5 1102.6L245.1 1101.2L245.7 1099.8L246.3 1098.4L246.9 1097.0L247.5 1095.6L248.1 1094.2L248.8 1092.8L249.4 1091.4L250.0 1090.0L250.7 1088.6L251.4 1087.2L252.0 1085.9L252.7 1084.5L253.4 1083.1L254.1 1081.7L254.8 1080.3L255.5 1078.9L256.2 1077.5L256.9 1076.1L257.6 1074.7L258.3 1073.4L259.1 1072.0L259.8 1070.6L260.6 1069.2L261.4 1067.8L262.2 1066.5L263.0 1065.1L263.8 1063.8L264.6 1062.4L265.4 1061.1L266.3 1059.8L267.1 1058.5L268.0 1057.3L268.9 1056.0L269.8 1054.8L270.7 1053.6L271.7 1052.5L272.6 1051.3L273.6 1050.2L274.6 1049.1L275.6 1048.1L276.7 1047.1L277.7 1046.1L278.8 1045.2L279.9 1044.3L281.0 1043.5L282.2 1042.7L283.4 1041.9L284.5 1041.2L285.8 1040.6L287.0 1039.9L288.3 1039.4L289.6 1038.9L290.9 1038.4L292.3 1038.0L293.7 1037.7L295.1 1037.4L296.5 1037.1L297.9 1036.9L299.4 1036.7L300.8 1036.5L302.3 1036.4L303.8 1036.3L305.3 1036.2L306.9 1036.1L308.4 1036.1L309.9 1036.1L311.5 1036.1L313.1 1036.2L314.6 1036.2L316.2 1036.3L317.8 1036.3L319.4 1036.4L321.0 1036.5L322.5 1036.5L324.1 1036.6L325.7 1036.7L327.3 1036.7L328.8 1036.8L330.4 1036.9L332.0 1036.9L333.5 1036.9L335.1 1036.9L336.6 1036.9L338.1 1036.9L339.6 1036.9L341.1 1036.8L342.6 1036.7L344.1 1036.6L345.6 1036.5L347.1 1036.4L348.5 1036.2L350.0 1036.1L351.4 1035.9L352.9 1035.7L354.3 1035.4L355.7 1035.2L357.1 1034.9L358.5 1034.6L359.9 1034.3L361.3 1034.0L362.7 1033.7L364.0 1033.3L365.4 1032.9L366.7 1032.5L368.1 1032.1L369.4 1031.6L370.7 1031.1L372.0 1030.6L373.3 1030.1L374.6 1029.6L375.9 1029.0L377.2 1028.4L378.5 1027.8L379.7 1027.2L381.0 1026.5L382.2 1025.8L383.5 1025.1L384.7 1024.4L385.9 1023.6L387.1 1022.8L388.3 1022.0L389.5 1021.2L390.7 1020.3L391.9 1019.5L393.0 1018.6L394.2 1017.6L395.4 1016.7L396.5 1015.7L397.6 1014.8L398.8 1013.8L399.9 1012.8L401.0 1011.7L402.1 1010.7L403.2 1009.6L404.3 1008.5L405.4 1007.4L406.5 1006.3L407.5 1005.2L408.6 1004.1L409.7 1002.9L410.7 1001.8L411.7 1000.6L412.8 999.4L413.8 998.2L414.8 997.0L415.8 995.8L416.8 994.6L417.8 993.4L418.8 992.2L419.8 990.9L420.7 989.7L421.7 988.5L422.7 987.2L423.6 986.0L424.6 984.7L425.5 983.5L426.4 982.2L427.4 981.0L428.3 979.8L429.2 978.5L430.1 977.3L431.0 976.0L431.9 974.8L432.8 973.5L433.6 972.3L434.5 971.1L435.4 969.9L436.2 968.6L437.1 967.4L438.0 966.2L438.8 965.0L439.7 963.8L440.6 962.6L441.4 961.4L442.3 960.2L443.1 959.0L444.0 957.8L444.9 956.6L445.7 955.4L446.6 954.3L447.5 953.1L448.3 951.9L449.2 950.8L450.1 949.6L451.0 948.5L451.9 947.3L452.8 946.2L453.7 945.0L454.6 943.9L455.6 942.8L456.5 941.7L457.5 940.6L458.4 939.5L459.4 938.4L460.4 937.3L461.4 936.2L462.4 935.1L463.4 934.0L464.4 933.0L465.5 931.9L466.5 930.9L467.6 929.8L468.7 928.8L469.8 927.8L470.9 926.8L472.0 925.7L473.2 924.7L474.4 923.7L475.6 922.8L476.8 921.8L478.0 920.8L479.2 919.9L480.5 918.9L481.8 918.0L483.1 917.1L484.4 916.2L485.7 915.3L487.0 914.5L488.4 913.7L489.7 912.9L491.1 912.2L492.4 911.5L493.8 910.8L495.2 910.2L496.6 909.6L497.9 909.0L499.3 908.5L500.7 908.1L502.1 907.7L503.5 907.3L504.8 907.1L506.2 906.8L507.6 906.6L509.0 906.5L510.3 906.5L511.7 906.5L513.0 906.6L514.3 906.7L515.6 907.0L517.0 907.3L518.2 907.6L519.5 908.0L520.8 908.5L522.1 909.0L523.3 909.6L524.6 910.3L525.8 911.0L527.0 911.7L528.2 912.5L529.4 913.3L530.6 914.2L531.8 915.1L532.9 916.1L534.1 917.0L535.2 918.1L536.3 919.1L537.5 920.2L538.5 921.3L539.6 922.4L540.7 923.6L541.7 924.7L542.8 925.9L543.8 927.1L544.8 928.3L545.8 929.6L546.8 930.8L547.7 932.0L548.7 933.3L549.6 934.5L550.6 935.8L551.5 937.1L552.3 938.3L553.2 939.6L554.1 940.9L554.9 942.2L555.8 943.4L556.6 944.7L557.4 946.0L558.2 947.3L559.0 948.6L559.8 949.9L560.5 951.2L561.3 952.5L562.0 953.8L562.7 955.2L563.4 956.5L564.2 957.8L564.8 959.1L565.5 960.5L566.2 961.8L566.9 963.1L567.5 964.5L568.2 965.8L568.8 967.2L569.4 968.5L570.0 969.9L570.7 971.2L571.3 972.6L571.8 974.0L572.4 975.3L573.0 976.7L573.6 978.1L574.1 979.4L574.7 980.8L575.3 982.2L575.8 983.6L576.3 985.0L576.9 986.3L577.4 987.7L577.9 989.1L578.4 990.5L578.9 991.9L579.4 993.3L579.9 994.7L580.4 996.1L580.9 997.5L581.4 998.9L581.9 1000.3L582.4 1001.7L582.9 1003.1L583.3 1004.5L583.8 1005.9L584.3 1007.3L584.7 1008.7L585.2 1010.2L585.7 1011.6L586.1 1013.0L586.6 1014.4L587.0 1015.8L587.5 1017.2L588.0 1018.6L588.4 1020.1L588.9 1021.5L589.3 1022.9L589.8 1024.3L590.2 1025.7L590.7 1027.2L591.1 1028.6L591.6 1030.0L592.0 1031.4L592.5 1032.8L592.9 1034.3L593.4 1035.7L593.8 1037.1L594.2 1038.6L594.7 1040.0L595.1 1041.4L595.6 1042.8L596.0 1044.3L596.4 1045.7L596.9 1047.1L597.3 1048.6L597.8 1050.0L598.2 1051.4L598.6 1052.9L599.1 1054.3L599.5 1055.7L599.9 1057.2L600.3 1058.6L600.8 1060.0L601.2 1061.5L601.6 1062.9L602.1 1064.3L602.5 1065.8L602.9 1067.2L603.3 1068.6L603.8 1070.1L604.2 1071.5L604.6 1073.0L605.0 1074.4L605.4 1075.8L605.9 1077.3L606.3 1078.7L606.7 1080.2L607.1 1081.6L607.5 1083.1L607.9 1084.5L608.4 1085.9L608.8 1087.4L609.2 1088.8L609.6 1090.3L610.0 1091.7L610.4 1093.2L610.8 1094.6L611.3 1096.1L611.7 1097.5L612.1 1098.9L612.5 1100.4L612.9 1101.8L613.3 1103.3L613.7 1104.7L614.1 1106.2L614.5 1107.6L614.9 1109.1L615.3 1110.5L615.7 1112.0L616.1 1113.4L616.6 1114.9L617.0 1116.3L617.4 1117.8L617.8 1119.2L618.2 1120.7L618.6 1122.1L619.0 1123.6L619.4 1125.0L619.8 1126.5L620.2 1127.9L620.6 1129.4L621.0 1130.8L621.4 1132.3L621.8 1133.7L622.2 1135.2L622.6 1136.6L623.0 1138.1L623.4 1139.5L623.8 1141.0L624.2 1142.4L624.6 1143.9L625.0 1145.3L625.4 1146.8L625.8 1148.2L626.2 1149.7L626.6 1151.1L626.9 1152.6L627.3 1154.0L627.7 1155.5L628.1 1156.9L628.5 1158.4L628.9 1159.8L629.3 1161.3L629.7 1162.7L630.1 1164.2L630.5 1165.6L630.9 1167.1L631.3 1168.5L631.7 1170.0L632.1 1171.4L632.5 1172.9L632.9 1174.3L633.3 1175.8L633.7 1177.2L634.1 1178.7L634.5 1180.1L634.8 1181.6L635.2 1183.0L635.6 1184.5L636.0 1185.9L636.4 1187.3L636.8 1188.8L637.2 1190.2L637.6 1191.7L638.0 1193.1L638.4 1194.6L638.8 1196.0L639.2 1197.5L639.6 1198.9L640.0 1200.4L640.4 1201.8L640.8 1203.2L641.2 1204.7L641.6 1206.1L642.0 1207.6L642.3 1209.0L642.7 1210.5L643.1 1211.9L643.5 1213.3L643.9 1214.8L644.3 1216.2L644.7 1217.7L645.1 1219.1L645.5 1220.5L645.9 1222.0L646.3 1223.4L646.7 1224.8L647.1 1226.3L647.5 1227.7L647.9 1229.2L648.3 1230.6L648.7 1232.0L649.1 1233.5L649.5 1234.9L649.9 1236.3L650.3 1237.8L650.7 1239.2L651.1 1240.6L651.5 1242.1L651.9 1243.5L652.3 1244.9L652.7 1246.3L653.1 1247.8L653.6 1249.2L654.0 1250.6L654.4 1252.0L654.8 1253.5L655.2 1254.9L655.6 1256.3L656.0 1257.7L656.4 1259.2L656.8 1260.6L657.2 1262.0L657.6 1263.4L658.0 1264.9L658.5 1266.3L658.9 1267.7L659.3 1269.1L659.7 1270.5L660.1 1272.0L660.5 1273.4L660.9 1274.8L661.3 1276.2L661.7 1277.6L662.2 1279.1L662.6 1280.5L663.0 1281.9L663.4 1283.3L663.8 1284.7L664.2 1286.2L664.6 1287.6L665.0 1289.0L665.4 1290.5L665.9 1291.9L666.3 1293.3L666.7 1294.8L667.1 1296.2L667.5 1297.6L667.9 1299.1L668.3 1300.5L668.7 1302.0L669.1 1303.4L669.5 1304.8L669.9 1306.3L670.3 1307.8L670.7 1309.2L671.1 1310.7L671.5 1312.1L671.9 1313.6L672.2 1315.1L672.6 1316.5L673.0 1318.0L673.4 1319.5L673.8 1321.0L674.2 1322.5L674.6 1324.0L674.9 1325.4L675.3 1326.9L675.7 1328.4L676.1 1329.9L676.4 1331.5L676.8 1333.0L677.2 1334.5L677.6 1336.0L678.0 1337.5L678.5 1339.0L678.9 1340.5L679.3 1342.0L679.8 1343.5L680.3 1345.0L680.8 1346.4L681.3 1347.9L681.9 1349.4L682.4 1350.8L683.0 1352.3L683.7 1353.7L684.3 1355.2L685.0 1356.6L685.7 1358.0L686.5 1359.4L687.3 1360.8L688.1 1362.2L689.0 1363.6L689.9 1364.9L690.9 1366.2L691.8 1367.5L692.9 1368.8L693.9 1370.1L695.0 1371.3L696.1 1372.5L697.2 1373.6L698.4 1374.7L699.5 1375.8L700.7 1376.8L701.9 1377.8L703.1 1378.7L704.4 1379.5L705.6 1380.3L706.9 1381.1L708.1 1381.7L709.4 1382.3L710.6 1382.8L711.9 1383.3L713.1 1383.7L714.4 1383.9L715.6 1384.1L716.9 1384.3L718.1 1384.3L719.3 1384.2L720.5 1384.0L721.7 1383.7L722.9 1383.4L724.0 1382.9L725.1 1382.4L726.3 1381.8L727.4 1381.1L728.5 1380.4L729.5 1379.6L730.6 1378.7L731.6 1377.7L732.7 1376.7L733.7 1375.7L734.7 1374.6L735.7 1373.5L736.6 1372.3L737.6 1371.1L738.5 1369.9L739.4 1368.6L740.3 1367.3L741.2 1366.0L742.1 1364.7L742.9 1363.4L743.8 1362.1L744.6 1360.7L745.4 1359.4L746.2 1358.0L747.0 1356.7L747.7 1355.4L748.5 1354.0L749.2 1352.7L750.0 1351.3L750.7 1350.0L751.4 1348.6L752.1 1347.2L752.8 1345.9L753.4 1344.5L754.1 1343.2L754.8 1341.8L755.4 1340.5L756.1 1339.1L756.7 1337.7L757.3 1336.4L758.0 1335.0L758.6 1333.6L759.2 1332.2L759.8 1330.9L760.4 1329.5L761.1 1328.1L761.7 1326.8L762.3 1325.4L762.9 1324.0L763.5 1322.6L764.1 1321.3L764.7 1319.9L765.3 1318.5L765.8 1317.1L766.4 1315.7L767.0 1314.3L767.6 1313.0L768.2 1311.6L768.7 1310.2L769.3 1308.8L769.9 1307.4L770.4 1306.0L771.0 1304.6L771.6 1303.2L772.1 1301.9L772.7 1300.5L773.2 1299.1L773.8 1297.7L774.3 1296.3L774.9 1294.9L775.4 1293.5L775.9 1292.1L776.5 1290.7L777.0 1289.3L777.5 1287.9L778.1 1286.5L778.6 1285.1L779.1 1283.7L779.6 1282.3L780.2 1280.9L780.7 1279.5L781.2 1278.1L781.7 1276.7L782.2 1275.2L782.7 1273.8L783.2 1272.4L783.7 1271.0L784.2 1269.6L784.7 1268.2L785.2 1266.8L785.7 1265.4L786.2 1264.0L786.6 1262.5L787.1 1261.1L787.6 1259.7L788.1 1258.3L788.6 1256.9L789.0 1255.4L789.5 1254.0L790.0 1252.6L790.4 1251.2L790.9 1249.8L791.4 1248.3L791.8 1246.9L792.3 1245.5L792.7 1244.1L793.2 1242.6L793.6 1241.2L794.1 1239.8L794.5 1238.3L795.0 1236.9L795.4 1235.5L795.8 1234.1L796.3 1232.6L796.7 1231.2L797.1 1229.8L797.6 1228.3L798.0 1226.9L798.4 1225.5L798.8 1224.0L799.3 1222.6L799.7 1221.2L800.1 1219.7L800.5 1218.3L800.9 1216.8L801.3 1215.4L801.8 1214.0L802.2 1212.5L802.6 1211.1L803.0 1209.6L803.4 1208.2L803.8 1206.7L804.2 1205.3L804.6 1203.9L804.9 1202.4L805.3 1201.0L805.7 1199.5L806.1 1198.1L806.5 1196.6L806.9 1195.2L807.3 1193.7L807.6 1192.3L808.0 1190.8L808.4 1189.4L808.8 1187.9L809.1 1186.5L809.5 1185.0L809.9 1183.6L810.3 1182.1L810.6 1180.7L811.0 1179.2L811.3 1177.8L811.7 1176.3L812.1 1174.9L812.4 1173.4L812.8 1171.9L813.1 1170.5L813.5 1169.0L813.8 1167.6L814.2 1166.1L814.5 1164.7L814.9 1163.2L815.2 1161.7L815.6 1160.3L815.9 1158.8L816.2 1157.4L816.6 1155.9L816.9 1154.4L817.2 1153.0L817.6 1151.5L817.9 1150.0L818.2 1148.6L818.6 1147.1L818.9 1145.6L819.2 1144.2L819.5 1142.7L819.9 1141.2L820.2 1139.8L820.5 1138.3L820.8 1136.9L821.1 1135.4L821.4 1133.9L821.8 1132.4L822.1 1131.0L822.4 1129.5L822.7 1128.0L823.0 1126.6L823.3 1125.1L823.6 1123.6L823.9 1122.2L824.2 1120.7L824.5 1119.2L824.8 1117.7L825.1 1116.3L825.4 1114.8L825.7 1113.3L826.0 1111.9L826.3 1110.4L826.6 1108.9L826.9 1107.4L827.2 1106.0L827.5 1104.5L827.7 1103.0L828.0 1101.5L828.3 1100.1L828.6 1098.6L828.9 1097.1L829.2 1095.6L829.4 1094.2L829.7 1092.7L830.0 1091.2L830.3 1089.7L830.6 1088.3L830.8 1086.8L831.1 1085.3L831.4 1083.8L831.7 1082.4L831.9 1080.9L832.2 1079.4L832.5 1077.9L832.7 1076.4L833.0 1075.0L833.3 1073.5L833.5 1072.0L833.8 1070.5L834.1 1069.0L834.3 1067.6L834.6 1066.1L834.9 1064.6L835.1 1063.1L835.4 1061.6L835.6 1060.2L835.9 1058.7L836.2 1057.2L836.4 1055.7L836.7 1054.2L836.9 1052.8L837.2 1051.3L837.4 1049.8L837.7 1048.3L837.9 1046.8L838.2 1045.4L838.5 1043.9L838.7 1042.4L839.0 1040.9L839.2 1039.4L839.5 1038.0L839.7 1036.5L839.9 1035.0L840.2 1033.5L840.4 1032.0L840.7 1030.5L840.9 1029.1L841.2 1027.6L841.4 1026.1L841.7 1024.6L841.9 1023.1L842.1 1021.7L842.4 1020.2L842.6 1018.7L842.9 1017.2L843.1 1015.7L843.4 1014.2L843.6 1012.8L843.8 1011.3L844.1 1009.8L844.3 1008.3L844.5 1006.8L844.8 1005.4L845.0 1003.9L845.3 1002.4L845.5 1000.9L845.7 999.4L846.0 998.0L846.2 996.5L846.4 995.0L846.7 993.5L846.9 992.0L847.1 990.5L847.4 989.1L847.6 987.6L847.8 986.1L848.1 984.6L848.3 983.1L848.5 981.7L848.7 980.2L849.0 978.7L849.2 977.2L849.4 975.7L849.7 974.2L849.9 972.8L850.1 971.3L850.3 969.8L850.6 968.3L850.8 966.8L851.0 965.4L851.3 963.9L851.5 962.4L851.7 960.9L851.9 959.4L852.2 957.9L852.4 956.5L852.6 955.0L852.8 953.5L853.1 952.0L853.3 950.5L853.5 949.1L853.7 947.6L853.9 946.1L854.2 944.6L854.4 943.1L854.6 941.6L854.8 940.2L855.1 938.7L855.3 937.2L855.5 935.7L855.7 934.2L855.9 932.8L856.2 931.3L856.4 929.8L856.6 928.3L856.8 926.8L857.0 925.3L857.3 923.9L857.5 922.4L857.7 920.9L857.9 919.4L858.1 917.9L858.4 916.5L858.6 915.0L858.8 913.5L859.0 912.0L859.2 910.5L859.5 909.0L859.7 907.6L859.9 906.1L860.1 904.6L860.3 903.1L860.5 901.6L860.8 900.2L861.0 898.7L861.2 897.2L861.4 895.7L861.6 894.2L861.8 892.7L862.1 891.3L862.3 889.8L862.5 888.3L862.7 886.8L862.9 885.3L863.1 883.9L863.4 882.4L863.6 880.9L863.8 879.4L864.0 877.9L864.2 876.4L864.4 875.0L864.7 873.5L864.9 872.0L865.1 870.5L865.3 869.0L865.5 867.6L865.7 866.1L866.0 864.6L866.2 863.1L866.4 861.6L866.6 860.1L866.8 858.7L867.0 857.2L867.3 855.7L867.5 854.2L867.7 852.7L867.9 851.2L868.1 849.8L868.3 848.3L868.6 846.8L868.8 845.3L869.0 843.8L869.2 842.4L869.4 840.9L869.6 839.4L869.9 837.9L870.1 836.4L870.3 834.9L870.5 833.5L870.7 832.0L871.0 830.5L871.2 829.0L871.4 827.5L871.6 826.1L871.8 824.6L872.0 823.1L872.3 821.6L872.5 820.1L872.7 818.6L872.9 817.2L873.1 815.7L873.4 814.2L873.6 812.7L873.8 811.2L874.0 809.7L874.2 808.3L874.5 806.8L874.7 805.3L874.9 803.8L875.1 802.3L875.4 800.9L875.6 799.4L875.8 797.9L876.0 796.4L876.2 794.9L876.5 793.4L876.7 792.0L876.9 790.5L877.1 789.0L877.4 787.5L877.6 786.0L877.8 784.5L878.0 783.1L878.3 781.6L878.5 780.1L878.7 778.6L878.9 777.1L879.2 775.7L879.4 774.2L879.6 772.7L879.8 771.2L880.1 769.7L880.3 768.2L880.5 766.8L880.8 765.3L881.0 763.8L881.2 762.3L881.4 760.8L881.7 759.3L881.9 757.9L882.1 756.4L882.4 754.9L882.6 753.4L882.8 751.9L883.1 750.4L883.3 749.0L883.5 747.5L883.8 746.0L884.0 744.5L884.2 743.0L884.5 741.5L884.7 740.1L884.9 738.6L885.2 737.1L885.4 735.6L885.6 734.1L885.9 732.6L886.1 731.2L886.4 729.7L886.6 728.2L886.8 726.7L887.1 725.2L887.3 723.8L887.6 722.3L887.8 720.8L888.0 719.3L888.3 717.8L888.5 716.3L888.8 714.9L889.0 713.4L889.3 711.9L889.5 710.4L889.8 708.9L890.0 707.4L890.2 706.0L890.5 704.5L890.7 703.0L891.0 701.5L891.2 700.0L891.5 698.5L891.7 697.1L892.0 695.6L892.2 694.1L892.5 692.6L892.7 691.1L893.0 689.6L893.2 688.2L893.5 686.7L893.8 685.2L894.0 683.7L894.3 682.2L894.5 680.7L894.8 679.3L895.0 677.8L895.3 676.3L895.6 674.8L895.8 673.3L896.1 671.8L896.3 670.3L896.6 668.9L896.9 667.4L897.1 665.9L897.4 664.4L897.7 662.9L897.9 661.4L898.2 660.0L898.4 658.5L898.7 657.0L899.0 655.5L899.3 654.0L899.5 652.5L899.8 651.1L900.1 649.6L900.3 648.1L900.6 646.6L900.9 645.1L901.2 643.6L901.4 642.2L901.7 640.7L902.0 639.2L902.3 637.7L902.5 636.2L902.8 634.7L903.1 633.3L903.4 631.8L903.7 630.3L904.0 628.8L904.2 627.3L904.5 625.9L904.8 624.4L905.1 622.9L905.4 621.4L905.7 619.9L906.0 618.5L906.3 617.0L906.6 615.5L906.9 614.0L907.2 612.5L907.5 611.1L907.8 609.6L908.1 608.1L908.4 606.6L908.7 605.2L909.0 603.7L909.3 602.2L909.6 600.8L910.0 599.3L910.3 597.8L910.6 596.3L910.9 594.9L911.2 593.4L911.6 591.9L911.9 590.5L912.2 589.0L912.5 587.5L912.9 586.1L913.2 584.6L913.5 583.2L913.9 581.7L914.2 580.2L914.6 578.8L914.9 577.3L915.3 575.9L915.6 574.4L916.0 572.9L916.3 571.5L916.7 570.0L917.0 568.6L917.4 567.1L917.7 565.7L918.1 564.2L918.5 562.8L918.8 561.3L919.2 559.9L919.6 558.4L920.0 557.0L920.4 555.6L920.7 554.1L921.1 552.7L921.5 551.2L921.9 549.8L922.3 548.4L922.7 546.9L923.1 545.5L923.5 544.1L923.9 542.6L924.3 541.2L924.7 539.8L925.1 538.4L925.5 536.9L926.0 535.5L926.4 534.1L926.8 532.7L927.2 531.3L927.7 529.8L928.1 528.4L928.5 527.0L929.0 525.6L929.4 524.2L929.9 522.8L930.3 521.4L930.8 520.0L931.2 518.6L931.7 517.2L932.1 515.8L932.6 514.4L933.1 513.0L933.6 511.6L934.0 510.2L934.5 508.8L935.0 507.4L935.5 506.0L936.0 504.6L936.5 503.2L937.0 501.9L937.5 500.5L938.0 499.1L938.5 497.7L939.0 496.4L939.5 495.0L940.0 493.6L940.6 492.3L941.1 490.9L941.6 489.5L942.1 488.2L942.7 486.8L943.2 485.4L943.8 484.1L944.3 482.7L944.9 481.4L945.5 480.0L946.0 478.7L946.6 477.3L947.2 475.9L947.8 474.6L948.4 473.2L949.0 471.9L949.6 470.5L950.2 469.1L950.8 467.8L951.5 466.4L952.1 465.0L952.7 463.6L953.4 462.3L954.1 460.9L954.7 459.5L955.4 458.1L956.1 456.7L956.8 455.3L957.5 453.9L958.2 452.5L958.9 451.1L959.6 449.7L960.4 448.3L961.1 446.9L961.9 445.5L962.7 444.0L963.4 442.6L964.2 441.1L965.0 439.7L965.8 438.3L966.7 436.8L967.5 435.4L968.4 434.0L969.2 432.6L970.1 431.2L971.0 429.8L971.9 428.5L972.8 427.1L973.8 425.9L974.7 424.6L975.7 423.4L976.7 422.2L977.7 421.1L978.8 420.0L979.8 418.9L980.9 418.0L982.0 417.0L983.1 416.2L984.3 415.3L985.4 414.6L986.6 413.9L987.8 413.3L989.1 412.8L990.3 412.3L991.6 411.9L992.9 411.5L994.2 411.2L995.5 411.0L996.8 410.8L998.2 410.7L999.5 410.6L1000.9 410.6L1002.3 410.6L1003.7 410.7L1005.1 410.8L1006.5 411.0L1007.8 411.2L1009.2 411.5L1010.6 411.8L1012.0 412.2L1013.4 412.6L1014.8 413.1L1016.2 413.5L1017.6 414.1L1019.0 414.6L1020.4 415.2L1021.7 415.9L1023.1 416.5L1024.4 417.2L1025.8 418.0L1027.1 418.7L1028.4 419.5L1029.7 420.4L1030.9 421.2L1032.2 422.1L1033.4 423.0L1034.6 423.9L1035.8 424.8L1036.9 425.8L1038.1 426.8L1039.2 427.8L1040.3 428.8L1041.3 429.8L1042.4 430.9L1043.4 431.9L1044.4 433.0L1045.4 434.1L1046.3 435.2L1047.2 436.4L1048.1 437.5L1049.0 438.7L1049.9 439.8L1050.7 441.0L1051.6 442.2L1052.4 443.4L1053.2 444.7L1054.0 445.9L1054.7 447.2L1055.5 448.4L1056.2 449.7L1056.9 451.0L1057.6 452.3L1058.3 453.6L1059.0 454.9L1059.6 456.2L1060.3 457.6L1060.9 458.9L1061.5 460.3L1062.1 461.6L1062.7 463.0L1063.3 464.4L1063.9 465.8L1064.5 467.1L1065.0 468.5L1065.6 469.9L1066.1 471.3L1066.6 472.8L1067.2 474.2L1067.7 475.6L1068.2 477.0L1068.7 478.5L1069.2 479.9L1069.7 481.3L1070.2 482.8L1070.7 484.2L1071.2 485.7L1071.7 487.1L1072.2 488.5L1072.6 490.0L1073.1 491.4L1073.6 492.9L1074.1 494.3L1074.6 495.8L1075.0 497.2L1075.5 498.7L1076.0 500.1L1076.5 501.6L1076.9 503.0L1077.4 504.5L1077.9 505.9L1078.4 507.4L1078.8 508.8L1079.3 510.3L1079.8 511.7L1080.3 513.2L1080.7 514.6L1081.2 516.1L1081.7 517.5L1082.1 519.0L1082.6 520.4L1083.1 521.8L1083.6 523.3L1084.0 524.7L1084.5 526.2L1085.0 527.6L1085.4 529.1L1085.9 530.5L1086.4 532.0L1086.9 533.4L1087.3 534.8L1087.8 536.3L1088.3 537.7L1088.8 539.2L1089.2 540.6L1089.7 542.1L1090.2 543.5L1090.6 544.9L1091.1 546.4L1091.6 547.8L1092.1 549.3L1092.5 550.7L1093.0 552.1L1093.5 553.6L1094.0 555.0L1094.5 556.5L1094.9 557.9L1095.4 559.3L1095.9 560.8L1096.4 562.2L1096.9 563.6L1097.3 565.1L1097.8 566.5L1098.3 567.9L1098.8 569.4L1099.3 570.8L1099.8 572.2L1100.3 573.7L1100.7 575.1L1101.2 576.5L1101.7 577.9L1102.2 579.4L1102.7 580.8L1103.2 582.2L1103.7 583.6L1104.2 585.1L1104.7 586.5L1105.2 587.9L1105.7 589.3L1106.2 590.7L1106.7 592.2L1107.2 593.6L1107.7 595.0L1108.2 596.4L1108.7 597.8L1109.2 599.2L1109.7 600.7L1110.3 602.1L1110.8 603.5L1111.3 604.9L1111.8 606.3L1112.3 607.7L1112.8 609.1L1113.4 610.5L1113.9 611.9L1114.4 613.3L1114.9 614.7L1115.5 616.1L1116.0 617.5L1116.5 618.9L1117.1 620.3L1117.6 621.7L1118.1 623.1L1118.7 624.5L1119.2 625.9L1119.8 627.3L1120.3 628.7L1120.9 630.1L1121.4 631.5L1122.0 632.9L1122.5 634.3L1123.1 635.7L1123.7 637.0L1124.2 638.4L1124.8 639.8L1125.3 641.2L1125.9 642.6L1126.5 643.9L1127.1 645.3L1127.6 646.7L1128.2 648.1L1128.8 649.4L1129.4 650.8L1130.0 652.2L1130.6 653.6L1131.2 654.9L1131.7 656.3L1132.3 657.7L1132.9 659.0L1133.5 660.4L1134.2 661.7L1134.8 663.1L1135.4 664.4L1136.0 665.8L1136.6 667.2L1137.2 668.5L1137.8 669.9L1138.5 671.2L1139.1 672.6L1139.7 673.9L1140.4 675.2L1141.0 676.6L1141.6 677.9L1142.3 679.3L1142.9 680.6L1143.6 681.9L1144.2 683.3L1144.9 684.6L1145.6 685.9L1146.2 687.3L1146.9 688.6L1147.6 689.9L1148.2 691.2L1148.9 692.6L1149.6 693.9L1150.3 695.2L1151.0 696.5L1151.7 697.8L1152.4 699.1L1153.0 700.4L1153.8 701.7L1154.5 703.1L1155.2 704.4L1155.9 705.7L1156.6 707.0L1157.3 708.3L1158.0 709.6L1158.8 710.8L1159.5 712.1L1160.2 713.4L1161.0 714.7L1161.7 716.0L1162.5 717.3L1163.2 718.6L1164.0 719.8L1164.7 721.1L1165.5 722.4L1166.3 723.7L1167.0 724.9L1167.8 726.2L1168.6 727.5L1169.4 728.7L1170.2 730.0L1171.0 731.3L1171.8 732.5L1172.6 733.8L1173.4 735.0L1174.2 736.3L1175.0 737.5L1175.8 738.8L1176.6 740.0L1177.5 741.3L1178.3 742.5L1179.1 743.8L1180.0 745.0L1180.8 746.2L1181.7 747.5L1182.5 748.7L1183.4 749.9L1184.2 751.1L1185.1 752.4L1186.0 753.6L1186.8 754.8L1187.7 756.0L1188.6 757.3L1189.4 758.5L1190.3 759.7L1191.2 760.9L1192.1 762.1L1193.0 763.3L1193.9 764.5L1194.8 765.8L1195.7 767.0L1196.6 768.2L1197.5 769.4L1198.4 770.6L1199.3 771.8L1200.2 773.0L1201.1 774.2L1202.0 775.4L1202.9 776.6L1203.8 777.8L1204.8 779.0L1205.7 780.2L1206.6 781.4L1207.5 782.6L1208.4 783.8L1209.4 784.9L1210.3 786.1L1211.2 787.3L1212.1 788.5L1213.1 789.7L1214.0 790.9L1214.9 792.1L1215.9 793.3L1216.8 794.5L1217.7 795.7L1218.7 796.9L1219.6 798.0L1220.5 799.2L1221.5 800.4L1222.4 801.6L1223.3 802.8L1224.3 804.0L1225.2 805.2L1226.1 806.4L1227.1 807.5L1228.0 808.7L1228.9 809.9L1229.9 811.1L1230.8 812.3L1231.7 813.5L1232.7 814.7L1233.6 815.9L1234.5 817.0L1235.5 818.2L1236.4 819.4L1237.3 820.6L1238.3 821.8L1239.2 823.0L1240.1 824.2L1241.0 825.4L1242.0 826.6L1242.9 827.8L1243.8 829.0L1244.7 830.2L1245.6 831.4L1246.5 832.6L1247.5 833.8L1248.4 835.0L1249.3 836.2L1250.2 837.4L1251.1 838.6L1252.0 839.8L1252.9 841.0L1253.8 842.2L1254.7 843.4L1255.6 844.6L1256.5 845.8L1257.3 847.0L1258.2 848.2L1259.1 849.4L1260.0 850.7L1260.9 851.9L1261.7 853.1L1262.6 854.3L1263.5 855.5L1264.3 856.8L1265.2 858.0L1266.0 859.2L1266.9 860.4L1267.7 861.7L1268.6 862.9L1269.4 864.1L1270.3 865.4L1271.1 866.6L1271.9 867.8L1272.8 869.1L1273.6 870.3L1274.4 871.6L1275.3 872.8L1276.1 874.1L1276.9 875.3L1277.7 876.6L1278.5 877.8L1279.3 879.1L1280.1 880.3L1280.9 881.6L1281.7 882.8L1282.5 884.1L1283.3 885.3L1284.1 886.6L1284.9 887.8L1285.7 889.1L1286.5 890.4L1287.3 891.6L1288.1 892.9L1288.9 894.2L1289.6 895.4L1290.4 896.7L1291.2 898.0L1292.0 899.2L1292.7 900.5L1293.5 901.8L1294.3 903.1L1295.0 904.3L1295.8 905.6L1296.6 906.9L1297.3 908.2L1298.1 909.5L1298.8 910.7L1299.6 912.0L1300.3 913.3L1301.1 914.6L1301.9 915.9L1302.6 917.2L1303.3 918.4L1304.1 919.7L1304.8 921.0L1305.6 922.3L1306.3 923.6L1307.1 924.9L1307.8 926.2L1308.6 927.5L1309.3 928.8L1310.0 930.1L1310.8 931.4L1311.5 932.7L1312.2 934.0L1313.0 935.3L1313.7 936.6L1314.4 937.9L1315.2 939.2L1315.9 940.5L1316.6 941.8L1317.4 943.1L1318.1 944.4L1318.8 945.7L1319.6 947.0L1320.3 948.3L1321.0 949.6L1321.7 950.9L1322.5 952.2L1323.2 953.5L1323.9 954.8L1324.6 956.1L1325.4 957.4L1326.1 958.7L1326.8 960.0L1327.5 961.4L1328.3 962.7L1329.0 964.0L1329.7 965.3L1330.5 966.6L1331.2 967.9L1331.9 969.2L1332.6 970.5L1333.4 971.8L1334.1 973.2L1334.8 974.5L1335.5 975.8L1336.3 977.1L1337.0 978.4L1337.7 979.7L1338.5 981.0L1339.2 982.4L1339.9 983.7L1340.7 985.0L1341.4 986.3L1342.1 987.6L1342.9 988.9L1343.6 990.3L1344.3 991.6L1345.1 992.9L1345.8 994.2L1346.5 995.5L1347.3 996.8L1348.0 998.2L1348.8 999.5L1349.5 1000.8L1350.2 1002.1L1351.0 1003.4L1351.7 1004.7L1352.5 1006.1L1353.2 1007.4L1353.9 1008.7L1354.7 1010.0L1355.4 1011.3L1356.2 1012.7L1356.9 1014.0L1357.6 1015.3L1358.4 1016.6L1359.1 1017.9L1359.8 1019.3L1360.5 1020.6L1361.3 1021.9L1362.0 1023.2L1362.7 1024.6L1363.4 1025.9L1364.1 1027.2L1364.9 1028.6L1365.6 1029.9L1366.3 1031.2L1367.0 1032.5L1367.7 1033.9L1368.4 1035.2L1369.1 1036.6L1369.8 1037.9L1370.4 1039.2L1371.1 1040.6L1371.8 1041.9L1372.5 1043.2L1373.2 1044.6L1373.8 1045.9L1374.5 1047.3L1375.2 1048.6L1375.8 1049.9L1376.5 1051.3L1377.2 1052.6L1377.8 1054.0L1378.5 1055.3L1379.1 1056.6L1379.8 1058.0L1380.5 1059.3L1381.1 1060.7L1381.8 1062.0L1382.4 1063.4L1383.1 1064.7L1383.7 1066.0L1384.4 1067.4L1385.0 1068.7L1385.7 1070.1L1386.4 1071.4L1387.0 1072.7L1387.7 1074.1L1388.3 1075.4L1389.0 1076.8L1389.6 1078.1L1390.3 1079.4L1390.9 1080.8L1391.6 1082.1L1392.3 1083.4L1392.9 1084.8L1393.6 1086.1L1394.3 1087.4L1394.9 1088.7L1395.6 1090.1L1396.3 1091.4L1396.9 1092.7L1397.6 1094.0L1398.3 1095.4L1399.0 1096.7L1399.7 1098.0L1400.4 1099.3L1401.1 1100.6L1401.7 1101.9L1402.4 1103.3L1403.1 1104.6L1403.9 1105.9L1404.6 1107.2L1405.3 1108.5L1406.0 1109.8L1406.7 1111.1L1407.4 1112.4L1408.2 1113.7L1408.9 1115.0L1409.6 1116.3L1410.4 1117.5L1411.1 1118.8L1411.9 1120.1L1412.7 1121.4L1413.4 1122.7L1414.2 1123.9L1415.0 1125.2L1415.8 1126.5L1416.5 1127.8L1417.3 1129.0L1418.1 1130.3L1418.9 1131.5L1419.7 1132.8L1420.5 1134.1L1421.4 1135.3L1422.2 1136.6L1423.0 1137.8L1423.8 1139.1L1424.7 1140.3L1425.5 1141.5L1426.3 1142.8L1427.2 1144.0L1428.0 1145.2L1428.9 1146.5L1429.8 1147.7L1430.6 1148.9L1431.5 1150.2L1432.4 1151.4L1433.2 1152.6L1434.1 1153.8L1435.0 1155.0L1435.9 1156.2L1436.8 1157.4L1437.7 1158.6L1438.6 1159.9L1439.5 1161.1L1440.4 1162.3L1441.3 1163.4L1442.2 1164.6L1443.2 1165.8L1444.1 1167.0L1445.0 1168.2L1445.9 1169.4L1446.9 1170.6L1447.8 1171.8L1448.8 1172.9L1449.7 1174.1L1450.7 1175.3L1451.6 1176.5L1452.6 1177.6L1453.5 1178.8L1454.5 1180.0L1455.4 1181.1L1456.4 1182.3L1457.4 1183.4L1458.4 1184.6L1459.3 1185.8L1460.3 1186.9L1461.3 1188.1L1462.3 1189.2L1463.3 1190.3L1464.3 1191.5L1465.3 1192.6L1466.3 1193.8L1467.3 1194.9L1468.3 1196.0L1469.3 1197.2L1470.3 1198.3L1471.3 1199.4L1472.3 1200.6L1473.3 1201.7L1474.3 1202.8L1475.4 1203.9L1476.4 1205.0L1477.4 1206.2L1478.4 1207.3L1479.5 1208.4L1480.5 1209.5L1481.5 1210.6L1482.6 1211.7L1483.6 1212.8L1484.6 1213.9L1485.7 1215.0L1486.7 1216.1L1487.8 1217.2L1488.8 1218.3L1489.9 1219.4L1490.9 1220.5L1492.0 1221.5L1493.0 1222.6L1494.1 1223.7L1495.1 1224.8L1496.2 1225.9L1497.2 1226.9L1498.3 1228.0L1499.4 1229.1L1500.4 1230.2L1501.5 1231.2L1502.6 1232.3L1503.6 1233.4L1504.7 1234.4L1505.8 1235.5L1506.8 1236.5L1507.9 1237.6L1509.0 1238.7L1510.0 1239.7L1511.1 1240.8L1512.2 1241.8L1513.3 1242.9L1514.3 1243.9L1515.4 1244.9L1516.5 1246.0L1517.6 1247.0L1518.7 1248.1L1519.7 1249.1L1520.8 1250.1L1521.9 1251.2L1523.0 1252.2L1524.1 1253.2L1525.2 1254.2L1526.2 1255.3L1527.3 1256.3L1528.4 1257.3L1529.5 1258.3L1530.6 1259.3L1531.7 1260.4L1532.8 1261.4L1533.9 1262.4L1535.0 1263.4L1536.1 1264.4L1537.2 1265.4L1538.3 1266.4L1539.4 1267.4L1540.5 1268.4L1541.6 1269.3L1542.7 1270.3L1543.8 1271.3L1544.9 1272.3L1546.1 1273.3L1547.2 1274.2L1548.3 1275.2L1549.4 1276.2L1550.5 1277.2L1551.7 1278.1L1552.8 1279.1L1553.9 1280.0L1555.1 1281.0L1556.2 1281.9L1557.3 1282.9L1558.5 1283.8L1559.6 1284.8L1560.8 1285.7L1561.9 1286.7L1563.1 1287.6L1564.2 1288.5L1565.4 1289.4L1566.5 1290.4L1567.7 1291.3L1568.9 1292.2L1570.0 1293.1L1571.2 1294.0L1572.4 1294.9L1573.6 1295.8L1574.7 1296.7L1575.9 1297.6L1577.1 1298.5L1578.3 1299.4L1579.5 1300.3L1580.7 1301.2L1581.9 1302.0L1583.1 1302.9L1584.3 1303.8L1585.5 1304.6L1586.7 1305.5L1587.9 1306.4L1589.1 1307.2L1590.4 1308.1L1591.6 1308.9L1592.8 1309.8L1594.0 1310.6L1595.3 1311.4L1596.5 1312.3L1597.8 1313.1L1599.0 1313.9L1600.3 1314.7L1601.5 1315.5L1602.8 1316.3L1604.0 1317.1L1605.3 1317.9L1606.6 1318.7L1607.9 1319.5L1609.1 1320.3L1610.4 1321.1L1611.7 1321.9L1613.0 1322.7L1614.3 1323.4L1615.6 1324.2L1616.9 1325.0L1618.2 1325.7L1619.5 1326.5L1620.8 1327.2L1622.1 1328.0L1623.4 1328.7L1624.7 1329.5L1626.0 1330.2L1627.4 1330.9L1628.7 1331.7L1630.0 1332.4L1631.4 1333.1L1632.7 1333.8L1634.0 1334.5L1635.4 1335.2L1636.7 1335.9L1638.0 1336.6L1639.4 1337.3L1640.7 1338.0L1642.1 1338.7L1643.4 1339.4L1644.8 1340.1L1646.1 1340.7L1647.5 1341.4L1648.9 1342.1L1650.2 1342.7L1651.6 1343.4L1653.0 1344.1L1654.3 1344.7L1655.7 1345.3L1657.1 1346.0L1658.4 1346.6L1659.8 1347.3L1661.2 1347.9L1662.6 1348.5L1664.0 1349.2L1665.3 1349.8L1666.7 1350.4L1668.1 1351.0L1669.5 1351.6L1670.9 1352.2L1672.3 1352.8L1673.6 1353.4L1675.0 1354.0L1676.4 1354.6L1677.8 1355.2L1679.2 1355.8L1680.6 1356.3L1682.0 1356.9L1683.4 1357.5L1684.8 1358.1L1686.2 1358.6L1687.6 1359.2L1689.0 1359.7L1690.4 1360.3L1691.8 1360.8L1693.2 1361.4L1694.6 1361.9L1696.0 1362.5L1697.4 1363.0L1698.8 1363.5L1700.2 1364.0L1701.6 1364.6L1703.0 1365.1L1704.4 1365.6L1705.8 1366.1L1707.2 1366.6L1708.6 1367.1L1710.0 1367.6L1711.4 1368.1L1712.8 1368.6L1714.2 1369.1L1715.6 1369.5L1717.0 1370.0L1718.4 1370.5L1719.8 1370.9L1721.3 1371.4L1722.7 1371.9L1724.1 1372.3L1725.5 1372.7L1726.9 1373.2L1728.3 1373.6L1729.8 1374.0L1731.2 1374.5L1732.6 1374.9L1734.0 1375.3L1735.4 1375.7L1736.9 1376.1L1738.3 1376.5L1739.7 1376.9L1741.1 1377.3L1742.6 1377.7L1744.0 1378.0L1745.4 1378.4L1746.9 1378.8L1748.3 1379.1L1749.7 1379.5L1751.2 1379.8L1752.6 1380.2L1754.0 1380.5L1755.5 1380.8L1756.9 1381.1L1758.4 1381.5L1759.8 1381.8L1761.3 1382.1L1762.7 1382.4L1764.2 1382.7L1765.6 1382.9L1767.1 1383.2L1768.5 1383.5L1770.0 1383.7L1771.4 1384.0L1772.9 1384.2L1774.3 1384.5L1775.8 1384.7L1777.3 1385.0L1778.7 1385.2L1780.2 1385.4L1781.7 1385.6L1783.2 1385.8L1784.6 1386.0L1786.1 1386.2L1787.6 1386.4L1789.1 1386.5L1790.5 1386.7L1792.0 1386.9L1793.5 1387.0L1795.0 1387.2L1796.5 1387.3L1798.0 1387.4L1799.5 1387.5L1801.0 1387.7L1802.5 1387.8L1804.0 1387.9L1805.5 1388.0L1807.0 1388.0L1808.5 1388.1L1810.0 1388.2L1811.5 1388.2L1813.0 1388.3L1814.5 1388.3L1816.0 1388.4L1817.6 1388.4L1819.1 1388.4L1820.6 1388.4L1822.1 1388.4L1823.7 1388.4L1825.2 1388.4L1826.7 1388.4L1828.3 1388.3L1829.8 1388.3L1831.3 1388.2L1832.9 1388.2L1834.4 1388.1L1836.0 1388.0L1837.5 1387.9L1839.1 1387.9L1840.6 1387.7L1842.2 1387.6L1843.8 1387.5L1845.3 1387.4"/>
<path stroke="#1e6fe0" d="M161.7 1391.2L161.9 1389.7L162.1 1388.2L162.3 1386.6L162.4 1385.1L162.6 1383.5L162.8 1382.0L163.0 1380.5L163.2 1378.9L163.4 1377.4L163.6 1375.9L163.8 1374.3L164.1 1372.8L164.3 1371.3L164.5 1369.8L164.7 1368.3L165.0 1366.8L165.2 1365.2L165.4 1363.7L165.7 1362.2L165.9 1360.7L166.2 1359.2L166.4 1357.7L166.7 1356.2L166.9 1354.7L167.2 1353.2L167.4 1351.8L167.7 1350.3L168.0 1348.8L168.3 1347.3L168.5 1345.8L168.8 1344.3L169.1 1342.8L169.4 1341.4L169.7 1339.9L170.0 1338.4L170.3 1336.9L170.6 1335.5L170.9 1334.0L171.2 1332.5L171.5 1331.1L171.8 1329.6L172.1 1328.1L172.4 1326.7L172.7 1325.2L173.1 1323.8L173.4 1322.3L173.7 1320.9L174.0 1319.4L174.4 1318.0L174.7 1316.5L175.0 1315.1L175.4 1313.6L175.7 1312.2L176.1 1310.7L176.4 1309.3L176.8 1307.8L177.1 1306.4L177.5 1304.9L177.8 1303.5L178.2 1302.1L178.6 1300.6L178.9 1299.2L179.3 1297.8L179.7 1296.3L180.1 1294.9L180.4 1293.5L180.8 1292.0L181.2 1290.6L181.6 1289.2L182.0 1287.7L182.3 1286.3L182.7 1284.9L183.1 1283.5L183.5 1282.0L183.9 1280.6L184.3 1279.2L184.7 1277.8L185.1 1276.3L185.5 1274.9L185.9 1273.5L186.3 1272.1L186.7 1270.7L187.1 1269.2L187.5 1267.8L187.9 1266.4L188.4 1265.0L188.8 1263.6L189.2 1262.1L189.6 1260.7L190.0 1259.3L190.5 1257.9L190.9 1256.5L191.3 1255.1L191.7 1253.6L192.2 1252.2L192.6 1250.8L193.0 1249.4L193.5 1248.0L193.9 1246.6L194.3 1245.2L194.8 1243.7L195.2 1242.3L195.6 1240.9L196.1 1239.5L196.5 1238.1L197.0 1236.7L197.4 1235.2L197.9 1233.8L198.3 1232.4L198.8 1231.0L199.2 1229.6L199.7 1228.2L200.1 1226.7L200.6 1225.3L201.0 1223.9L201.5 1222.5L201.9 1221.1L202.4 1219.7L202.8 1218.2L203.3 1216.8L203.7 1215.4L204.2 1214.0L204.7 1212.5L205.1 1211.1L205.6 1209.7L206.0 1208.3L206.5 1206.9L207.0 1205.4L207.4 1204.0L207.9 1202.6L208.3 1201.1L208.8 1199.7L209.3 1198.3L209.7 1196.9L210.2 1195.4L210.7 1194.0L211.1 1192.6L211.6 1191.1L212.1 1189.7L212.5 1188.3L213.0 1186.8L213.5 1185.4L213.9 1183.9L214.4 1182.5L214.9 1181.1L215.3 1179.6L215.8 1178.2L216.3 1176.7L216.7 1175.3L217.2 1173.8L217.7 1172.4L218.1 1170.9L218.6 1169.5L219.1 1168.0L219.5 1166.6L220.0 1165.1L220.5 1163.7L220.9 1162.2L221.4 1160.7L221.9 1159.3L222.3 1157.8L222.8 1156.4L223.3 1154.9L223.7 1153.4L224.2 1152.0L224.7 1150.5L225.1 1149.0L225.6 1147.5L226.1 1146.1L226.5 1144.6L227.0 1143.1L227.5 1141.7L228.0 1140.2L228.5 1138.7L228.9 1137.3L229.4 1135.8L229.9 1134.4L230.4 1132.9L230.9 1131.4L231.4 1130.0L231.9 1128.5L232.5 1127.1L233.0 1125.7L233.5 1124.2L234.0 1122.8L234.6 1121.4L235.1 1120.0L235.7 1118.5L236.3 1117.1L236.8 1115.7L237.4 1114.3L238.0 1113.0L238.6 1111.6L239.2 1110.2L239.8 1108.8L240.5 1107.5L241.1 1106.1L241.7 1104.8L242.4 1103.4L243.1 1102.1L243.8 1100.8L244.4 1099.5L245.1 1098.2L245.9 1096.9L246.6 1095.6L247.3 1094.4L248.1 1093.1L248.9 1091.9L249.6 1090.6L250.4 1089.4L251.3 1088.2L252.1 1087.0L252.9 1085.8L253.8 1084.7L254.6 1083.5L255.5 1082.4L256.4 1081.2L257.4 1080.1L258.3 1079.0L259.3 1077.9L260.2 1076.9L261.2 1075.8L262.2 1074.8L263.2 1073.7L264.3 1072.7L265.4 1071.7L266.4 1070.8L267.5 1069.8L268.7 1068.9L269.8 1067.9L271.0 1067.0L272.1 1066.2L273.3 1065.3L274.6 1064.5L275.8 1063.7L277.0 1062.9L278.3 1062.2L279.6 1061.5L280.9 1060.9L282.2 1060.3L283.5 1059.7L284.9 1059.2L286.3 1058.7L287.6 1058.3L289.0 1057.9L290.4 1057.6L291.8 1057.3L293.3 1057.1L294.7 1057.0L296.2 1056.9L297.6 1056.8L299.1 1056.8L300.6 1056.9L302.1 1057.0L303.6 1057.1L305.1 1057.3L306.6 1057.5L308.1 1057.7L309.7 1057.9L311.2 1058.2L312.7 1058.5L314.3 1058.9L315.8 1059.2L317.4 1059.6L318.9 1060.0L320.5 1060.3L322.0 1060.7L323.5 1061.1L325.1 1061.5L326.6 1061.9L328.2 1062.3L329.7 1062.7L331.2 1063.1L332.7 1063.5L334.2 1063.8L335.8 1064.1L337.3 1064.5L338.8 1064.7L340.2 1065.0L341.7 1065.2L343.2 1065.4L344.6 1065.6L346.1 1065.7L347.5 1065.8L349.0 1065.9L350.4 1065.8L351.8 1065.8L353.2 1065.7L354.5 1065.5L355.9 1065.3L357.3 1065.0L358.6 1064.7L359.9 1064.4L361.2 1064.0L362.6 1063.5L363.8 1063.1L365.1 1062.5L366.4 1062.0L367.7 1061.4L368.9 1060.7L370.2 1060.1L371.4 1059.4L372.6 1058.7L373.8 1057.9L375.0 1057.1L376.2 1056.3L377.4 1055.5L378.6 1054.7L379.8 1053.8L380.9 1052.9L382.1 1052.0L383.2 1051.1L384.4 1050.1L385.5 1049.1L386.6 1048.2L387.8 1047.2L388.9 1046.1L390.0 1045.1L391.0 1044.0L392.1 1043.0L393.2 1041.9L394.3 1040.8L395.3 1039.7L396.4 1038.6L397.4 1037.4L398.5 1036.3L399.5 1035.1L400.5 1033.9L401.5 1032.8L402.5 1031.6L403.5 1030.4L404.5 1029.2L405.5 1027.9L406.5 1026.7L407.4 1025.5L408.4 1024.2L409.3 1023.0L410.3 1021.8L411.2 1020.5L412.1 1019.3L413.0 1018.0L414.0 1016.7L414.9 1015.5L415.8 1014.2L416.6 1012.9L417.5 1011.7L418.4 1010.4L419.3 1009.1L420.1 1007.9L421.0 1006.6L421.8 1005.4L422.6 1004.1L423.5 1002.8L424.3 1001.6L425.1 1000.3L425.9 999.1L426.7 997.8L427.5 996.6L428.3 995.3L429.1 994.1L429.9 992.9L430.7 991.6L431.5 990.4L432.3 989.1L433.1 987.9L433.8 986.7L434.6 985.5L435.4 984.2L436.2 983.0L437.0 981.8L437.8 980.6L438.5 979.3L439.3 978.1L440.1 976.9L440.9 975.7L441.7 974.5L442.5 973.3L443.3 972.0L444.1 970.8L444.9 969.6L445.7 968.4L446.6 967.2L447.4 966.0L448.2 964.8L449.1 963.6L449.9 962.4L450.8 961.2L451.7 960.0L452.5 958.9L453.4 957.7L454.3 956.5L455.2 955.3L456.1 954.1L457.0 952.9L458.0 951.8L458.9 950.6L459.9 949.4L460.8 948.2L461.8 947.1L462.8 945.9L463.8 944.7L464.9 943.6L465.9 942.4L466.9 941.2L468.0 940.1L469.1 938.9L470.2 937.8L471.3 936.6L472.4 935.5L473.5 934.4L474.7 933.3L475.8 932.2L477.0 931.1L478.2 930.1L479.4 929.0L480.6 928.0L481.8 927.1L483.0 926.1L484.2 925.2L485.5 924.3L486.7 923.4L488.0 922.6L489.2 921.8L490.5 921.0L491.8 920.3L493.1 919.6L494.3 919.0L495.6 918.4L496.9 917.9L498.2 917.4L499.6 916.9L500.9 916.5L502.2 916.2L503.5 915.9L504.8 915.6L506.2 915.5L507.5 915.4L508.8 915.3L510.2 915.3L511.5 915.4L512.8 915.5L514.2 915.7L515.5 916.0L516.8 916.3L518.2 916.6L519.5 917.1L520.8 917.5L522.2 918.1L523.5 918.6L524.8 919.3L526.1 919.9L527.4 920.6L528.7 921.4L530.0 922.1L531.3 923.0L532.6 923.8L533.8 924.7L535.1 925.6L536.3 926.5L537.5 927.5L538.8 928.5L540.0 929.5L541.2 930.5L542.4 931.6L543.5 932.7L544.7 933.7L545.8 934.8L546.9 935.9L548.0 937.0L549.1 938.2L550.2 939.3L551.2 940.4L552.3 941.6L553.3 942.7L554.3 943.9L555.3 945.0L556.3 946.2L557.3 947.4L558.2 948.6L559.1 949.8L560.1 951.0L561.0 952.2L561.9 953.4L562.7 954.6L563.6 955.9L564.5 957.1L565.3 958.4L566.1 959.6L566.9 960.9L567.7 962.1L568.5 963.4L569.3 964.7L570.1 966.0L570.8 967.3L571.6 968.5L572.3 969.8L573.0 971.2L573.7 972.5L574.4 973.8L575.1 975.1L575.8 976.4L576.5 977.8L577.1 979.1L577.8 980.4L578.4 981.8L579.1 983.1L579.7 984.5L580.3 985.9L580.9 987.2L581.5 988.6L582.1 990.0L582.7 991.3L583.3 992.7L583.8 994.1L584.4 995.5L585.0 996.9L585.5 998.3L586.1 999.7L586.6 1001.1L587.1 1002.5L587.6 1003.9L588.2 1005.3L588.7 1006.7L589.2 1008.1L589.7 1009.5L590.2 1010.9L590.7 1012.3L591.1 1013.8L591.6 1015.2L592.1 1016.6L592.6 1018.0L593.1 1019.5L593.5 1020.9L594.0 1022.3L594.4 1023.8L594.9 1025.2L595.4 1026.6L595.8 1028.1L596.3 1029.5L596.7 1030.9L597.2 1032.4L597.6 1033.8L598.0 1035.2L598.5 1036.7L598.9 1038.1L599.4 1039.6L599.8 1041.0L600.2 1042.4L600.7 1043.9L601.1 1045.3L601.6 1046.8L602.0 1048.2L602.4 1049.6L602.9 1051.1L603.3 1052.5L603.7 1053.9L604.1 1055.4L604.6 1056.8L605.0 1058.3L605.4 1059.7L605.9 1061.1L606.3 1062.6L606.7 1064.0L607.1 1065.5L607.5 1066.9L608.0 1068.3L608.4 1069.8L608.8 1071.2L609.2 1072.7L609.7 1074.1L610.1 1075.5L610.5 1077.0L610.9 1078.4L611.3 1079.9L611.7 1081.3L612.2 1082.8L612.6 1084.2L613.0 1085.6L613.4 1087.1L613.8 1088.5L614.2 1090.0L614.7 1091.4L615.1 1092.8L615.5 1094.3L615.9 1095.7L616.3 1097.2L616.7 1098.6L617.1 1100.0L617.5 1101.5L618.0 1102.9L618.4 1104.4L618.8 1105.8L619.2 1107.2L619.6 1108.7L620.0 1110.1L620.4 1111.6L620.8 1113.0L621.3 1114.4L621.7 1115.9L622.1 1117.3L622.5 1118.8L622.9 1120.2L623.3 1121.6L623.7 1123.1L624.1 1124.5L624.5 1126.0L625.0 1127.4L625.4 1128.8L625.8 1130.3L626.2 1131.7L626.6 1133.1L627.0 1134.6L627.4 1136.0L627.9 1137.5L628.3 1138.9L628.7 1140.3L629.1 1141.8L629.5 1143.2L629.9 1144.7L630.4 1146.1L630.8 1147.5L631.2 1149.0L631.6 1150.4L632.0 1151.8L632.4 1153.3L632.9 1154.7L633.3 1156.1L633.7 1157.6L634.1 1159.0L634.6 1160.5L635.0 1161.9L635.4 1163.3L635.8 1164.8L636.2 1166.2L636.7 1167.6L637.1 1169.1L637.5 1170.5L637.9 1171.9L638.4 1173.4L638.8 1174.8L639.2 1176.2L639.6 1177.7L640.1 1179.1L640.5 1180.5L640.9 1182.0L641.3 1183.4L641.8 1184.8L642.2 1186.3L642.6 1187.7L643.0 1189.1L643.5 1190.6L643.9 1192.0L644.3 1193.5L644.7 1194.9L645.1 1196.3L645.6 1197.8L646.0 1199.2L646.4 1200.6L646.8 1202.1L647.2 1203.5L647.6 1205.0L648.0 1206.4L648.4 1207.8L648.8 1209.3L649.2 1210.7L649.6 1212.2L650.0 1213.6L650.4 1215.0L650.8 1216.5L651.2 1217.9L651.6 1219.4L652.0 1220.8L652.4 1222.3L652.8 1223.7L653.2 1225.2L653.6 1226.6L653.9 1228.1L654.3 1229.5L654.7 1231.0L655.1 1232.4L655.4 1233.9L655.8 1235.3L656.2 1236.8L656.5 1238.2L656.9 1239.7L657.2 1241.1L657.6 1242.6L657.9 1244.1L658.3 1245.5L658.6 1247.0L658.9 1248.4L659.3 1249.9L659.6 1251.4L659.9 1252.8L660.3 1254.3L660.6 1255.8L660.9 1257.2L661.2 1258.7L661.5 1260.2L661.8 1261.6L662.1 1263.1L662.4 1264.6L662.7 1266.1L663.0 1267.5L663.3 1269.0L663.6 1270.5L663.8 1272.0L664.1 1273.4L664.4 1274.9L664.7 1276.4L665.0 1277.9L665.2 1279.4L665.5 1280.9L665.8 1282.3L666.1 1283.8L666.4 1285.3L666.7 1286.8L666.9 1288.3L667.2 1289.7L667.5 1291.2L667.8 1292.7L668.1 1294.2L668.4 1295.7L668.7 1297.1L669.0 1298.6L669.3 1300.1L669.6 1301.6L669.9 1303.1L670.3 1304.5L670.6 1306.0L670.9 1307.5L671.3 1309.0L671.6 1310.4L672.0 1311.9L672.3 1313.4L672.7 1314.8L673.1 1316.3L673.5 1317.8L673.9 1319.2L674.3 1320.7L674.7 1322.1L675.1 1323.6L675.5 1325.1L676.0 1326.5L676.4 1328.0L676.9 1329.4L677.3 1330.9L677.8 1332.3L678.3 1333.7L678.8 1335.2L679.3 1336.6L679.9 1338.1L680.4 1339.5L681.0 1340.9L681.5 1342.3L682.1 1343.8L682.7 1345.2L683.3 1346.6L684.0 1348.0L684.6 1349.4L685.3 1350.8L685.9 1352.2L686.6 1353.6L687.3 1355.0L688.1 1356.4L688.8 1357.8L689.6 1359.2L690.3 1360.6L691.1 1362.0L691.9 1363.3L692.8 1364.7L693.6 1366.0L694.5 1367.4L695.3 1368.7L696.2 1370.0L697.1 1371.2L698.0 1372.4L699.0 1373.6L699.9 1374.7L700.9 1375.8L701.8 1376.8L702.8 1377.7L703.8 1378.6L704.8 1379.4L705.8 1380.2L706.8 1380.8L707.8 1381.4L708.8 1381.8L709.8 1382.2L710.8 1382.5L711.9 1382.7L712.9 1382.8L713.9 1382.7L714.9 1382.5L716.0 1382.3L717.0 1381.9L718.0 1381.5L719.1 1380.9L720.1 1380.3L721.1 1379.6L722.1 1378.8L723.1 1377.9L724.2 1377.0L725.2 1376.0L726.2 1375.0L727.1 1373.9L728.1 1372.7L729.1 1371.6L730.1 1370.3L731.0 1369.1L731.9 1367.8L732.9 1366.5L733.8 1365.2L734.7 1363.8L735.6 1362.5L736.5 1361.1L737.3 1359.8L738.2 1358.4L739.0 1357.1L739.8 1355.7L740.6 1354.3L741.4 1353.0L742.2 1351.6L742.9 1350.2L743.7 1348.8L744.4 1347.4L745.2 1346.1L745.9 1344.7L746.6 1343.3L747.3 1341.9L748.0 1340.5L748.6 1339.1L749.3 1337.7L749.9 1336.3L750.6 1334.9L751.2 1333.5L751.8 1332.1L752.4 1330.7L753.0 1329.3L753.6 1327.9L754.2 1326.5L754.7 1325.1L755.3 1323.7L755.9 1322.3L756.4 1320.8L756.9 1319.4L757.5 1318.0L758.0 1316.6L758.5 1315.2L759.0 1313.7L759.5 1312.3L760.0 1310.9L760.5 1309.5L761.0 1308.0L761.4 1306.6L761.9 1305.2L762.4 1303.7L762.8 1302.3L763.3 1300.9L763.7 1299.4L764.2 1298.0L764.6 1296.6L765.0 1295.1L765.5 1293.7L765.9 1292.2L766.3 1290.8L766.7 1289.4L767.1 1287.9L767.6 1286.5L768.0 1285.0L768.4 1283.6L768.8 1282.2L769.2 1280.7L769.6 1279.3L770.0 1277.8L770.4 1276.4L770.8 1274.9L771.2 1273.5L771.6 1272.0L772.0 1270.6L772.4 1269.2L772.8 1267.7L773.2 1266.3L773.6 1264.8L774.0 1263.4L774.4 1261.9L774.8 1260.5L775.1 1259.0L775.5 1257.6L775.9 1256.1L776.3 1254.7L776.7 1253.2L777.1 1251.8L777.5 1250.4L777.9 1248.9L778.3 1247.5L778.7 1246.0L779.0 1244.6L779.4 1243.1L779.8 1241.7L780.2 1240.2L780.6 1238.8L781.0 1237.3L781.4 1235.9L781.7 1234.4L782.1 1233.0L782.5 1231.5L782.9 1230.1L783.3 1228.6L783.6 1227.2L784.0 1225.7L784.4 1224.3L784.8 1222.8L785.2 1221.4L785.5 1219.9L785.9 1218.5L786.3 1217.0L786.7 1215.6L787.0 1214.1L787.4 1212.7L787.8 1211.2L788.2 1209.8L788.5 1208.3L788.9 1206.9L789.3 1205.4L789.6 1204.0L790.0 1202.5L790.4 1201.1L790.8 1199.6L791.1 1198.2L791.5 1196.7L791.9 1195.3L792.2 1193.8L792.6 1192.4L793.0 1190.9L793.3 1189.5L793.7 1188.0L794.0 1186.6L794.4 1185.1L794.8 1183.6L795.1 1182.2L795.5 1180.7L795.9 1179.3L796.2 1177.8L796.6 1176.4L796.9 1174.9L797.3 1173.5L797.6 1172.0L798.0 1170.6L798.4 1169.1L798.7 1167.7L799.1 1166.2L799.4 1164.7L799.8 1163.3L800.1 1161.8L800.5 1160.4L800.8 1158.9L801.2 1157.5L801.5 1156.0L801.9 1154.6L802.2 1153.1L802.6 1151.6L802.9 1150.2L803.3 1148.7L803.6 1147.3L804.0 1145.8L804.3 1144.4L804.7 1142.9L805.0 1141.4L805.3 1140.0L805.7 1138.5L806.0 1137.1L806.4 1135.6L806.7 1134.1L807.0 1132.7L807.4 1131.2L807.7 1129.8L808.1 1128.3L808.4 1126.9L808.7 1125.4L809.1 1123.9L809.4 1122.5L809.7 1121.0L810.1 1119.6L810.4 1118.1L810.7 1116.6L811.1 1115.2L811.4 1113.7L811.7 1112.3L812.1 1110.8L812.4 1109.3L812.7 1107.9L813.0 1106.4L813.4 1104.9L813.7 1103.5L814.0 1102.0L814.3 1100.6L814.7 1099.1L815.0 1097.6L815.3 1096.2L815.6 1094.7L816.0 1093.3L816.3 1091.8L816.6 1090.3L816.9 1088.9L817.2 1087.4L817.6 1085.9L817.9 1084.5L818.2 1083.0L818.5 1081.5L818.8 1080.1L819.1 1078.6L819.4 1077.1L819.8 1075.7L820.1 1074.2L820.4 1072.8L820.7 1071.3L821.0 1069.8L821.3 1068.4L821.6 1066.9L821.9 1065.4L822.2 1064.0L822.5 1062.5L822.8 1061.0L823.2 1059.6L823.5 1058.1L823.8 1056.6L824.1 1055.2L824.4 1053.7L824.7 1052.2L825.0 1050.8L825.3 1049.3L825.6 1047.8L825.9 1046.3L826.2 1044.9L826.5 1043.4L826.8 1041.9L827.0 1040.5L827.3 1039.0L827.6 1037.5L827.9 1036.1L828.2 1034.6L828.5 1033.1L828.8 1031.7L829.1 1030.2L829.4 1028.7L829.7 1027.2L830.0 1025.8L830.2 1024.3L830.5 1022.8L830.8 1021.4L831.1 1019.9L831.4 1018.4L831.7 1016.9L832.0 1015.5L832.2 1014.0L832.5 1012.5L832.8 1011.1L833.1 1009.6L833.3 1008.1L833.6 1006.6L833.9 1005.2L834.2 1003.7L834.5 1002.2L834.7 1000.7L835.0 999.3L835.3 997.8L835.5 996.3L835.8 994.8L836.1 993.4L836.4 991.9L836.6 990.4L836.9 988.9L837.2 987.5L837.4 986.0L837.7 984.5L838.0 983.0L838.2 981.6L838.5 980.1L838.8 978.6L839.0 977.1L839.3 975.7L839.5 974.2L839.8 972.7L840.1 971.2L840.3 969.7L840.6 968.3L840.8 966.8L841.1 965.3L841.3 963.8L841.6 962.3L841.8 960.9L842.1 959.4L842.3 957.9L842.6 956.4L842.8 954.9L843.1 953.5L843.3 952.0L843.6 950.5L843.8 949.0L844.1 947.5L844.3 946.1L844.6 944.6L844.8 943.1L845.1 941.6L845.3 940.1L845.5 938.7L845.8 937.2L846.0 935.7L846.3 934.2L846.5 932.7L846.7 931.2L847.0 929.8L847.2 928.3L847.5 926.8L847.7 925.3L847.9 923.8L848.2 922.3L848.4 920.9L848.6 919.4L848.9 917.9L849.1 916.4L849.3 914.9L849.6 913.4L849.8 912.0L850.0 910.5L850.3 909.0L850.5 907.5L850.7 906.0L850.9 904.5L851.2 903.0L851.4 901.6L851.6 900.1L851.9 898.6L852.1 897.1L852.3 895.6L852.5 894.1L852.8 892.6L853.0 891.2L853.2 889.7L853.4 888.2L853.7 886.7L853.9 885.2L854.1 883.7L854.3 882.2L854.6 880.8L854.8 879.3L855.0 877.8L855.2 876.3L855.4 874.8L855.7 873.3L855.9 871.8L856.1 870.3L856.3 868.9L856.6 867.4L856.8 865.9L857.0 864.4L857.2 862.9L857.4 861.4L857.7 859.9L857.9 858.5L858.1 857.0L858.3 855.5L858.5 854.0L858.8 852.5L859.0 851.0L859.2 849.5L859.4 848.0L859.6 846.6L859.8 845.1L860.1 843.6L860.3 842.1L860.5 840.6L860.7 839.1L860.9 837.6L861.2 836.1L861.4 834.7L861.6 833.2L861.8 831.7L862.0 830.2L862.3 828.7L862.5 827.2L862.7 825.7L862.9 824.2L863.1 822.8L863.3 821.3L863.6 819.8L863.8 818.3L864.0 816.8L864.2 815.3L864.4 813.8L864.7 812.3L864.9 810.9L865.1 809.4L865.3 807.9L865.5 806.4L865.8 804.9L866.0 803.4L866.2 801.9L866.4 800.5L866.7 799.0L866.9 797.5L867.1 796.0L867.3 794.5L867.5 793.0L867.8 791.5L868.0 790.1L868.2 788.6L868.4 787.1L868.7 785.6L868.9 784.1L869.1 782.6L869.3 781.1L869.6 779.7L869.8 778.2L870.0 776.7L870.2 775.2L870.5 773.7L870.7 772.2L870.9 770.7L871.1 769.3L871.4 767.8L871.6 766.3L871.8 764.8L872.1 763.3L872.3 761.8L872.5 760.4L872.8 758.9L873.0 757.4L873.2 755.9L873.4 754.4L873.7 752.9L873.9 751.5L874.1 750.0L874.4 748.5L874.6 747.0L874.9 745.5L875.1 744.0L875.3 742.6L875.6 741.1L875.8 739.6L876.0 738.1L876.3 736.6L876.5 735.2L876.8 733.7L877.0 732.2L877.2 730.7L877.5 729.2L877.7 727.7L878.0 726.3L878.2 724.8L878.5 723.3L878.7 721.8L879.0 720.3L879.2 718.9L879.5 717.4L879.7 715.9L880.0 714.4L880.2 713.0L880.5 711.5L880.7 710.0L881.0 708.5L881.2 707.0L881.5 705.6L881.7 704.1L882.0 702.6L882.2 701.1L882.5 699.7L882.8 698.2L883.0 696.7L883.3 695.2L883.5 693.8L883.8 692.3L884.1 690.8L884.3 689.3L884.6 687.9L884.9 686.4L885.1 684.9L885.4 683.4L885.7 682.0L885.9 680.5L886.2 679.0L886.5 677.5L886.8 676.1L887.0 674.6L887.3 673.1L887.6 671.7L887.9 670.2L888.1 668.7L888.4 667.2L888.7 665.8L889.0 664.3L889.3 662.8L889.5 661.4L889.8 659.9L890.1 658.4L890.4 657.0L890.7 655.5L891.0 654.0L891.3 652.5L891.6 651.1L891.9 649.6L892.1 648.1L892.4 646.7L892.7 645.2L893.0 643.7L893.3 642.3L893.6 640.8L893.9 639.4L894.2 637.9L894.5 636.4L894.8 635.0L895.2 633.5L895.5 632.0L895.8 630.6L896.1 629.1L896.4 627.6L896.7 626.2L897.0 624.7L897.3 623.3L897.7 621.8L898.0 620.3L898.3 618.9L898.6 617.4L898.9 616.0L899.3 614.5L899.6 613.0L899.9 611.6L900.2 610.1L900.6 608.7L900.9 607.2L901.2 605.8L901.6 604.3L901.9 602.8L902.2 601.4L902.6 599.9L902.9 598.5L903.3 597.0L903.6 595.6L903.9 594.1L904.3 592.7L904.6 591.2L905.0 589.8L905.3 588.3L905.7 586.8L906.0 585.4L906.4 583.9L906.8 582.5L907.1 581.0L907.5 579.6L907.8 578.1L908.2 576.7L908.6 575.2L908.9 573.8L909.3 572.4L909.7 570.9L910.1 569.5L910.4 568.0L910.8 566.6L911.2 565.1L911.6 563.7L911.9 562.2L912.3 560.8L912.7 559.3L913.1 557.9L913.5 556.5L913.9 555.0L914.3 553.6L914.7 552.1L915.1 550.7L915.5 549.3L915.9 547.8L916.3 546.4L916.7 544.9L917.1 543.5L917.5 542.1L917.9 540.6L918.3 539.2L918.7 537.8L919.1 536.3L919.5 534.9L919.9 533.4L920.4 532.0L920.8 530.6L921.2 529.1L921.6 527.7L922.1 526.3L922.5 524.9L922.9 523.4L923.4 522.0L923.8 520.6L924.2 519.1L924.7 517.7L925.1 516.3L925.6 514.8L926.0 513.4L926.5 512.0L926.9 510.6L927.4 509.2L927.9 507.7L928.3 506.3L928.8 504.9L929.3 503.5L929.8 502.1L930.3 500.7L930.8 499.3L931.3 497.9L931.8 496.5L932.3 495.0L932.8 493.7L933.4 492.3L933.9 490.9L934.4 489.5L935.0 488.1L935.6 486.7L936.1 485.3L936.7 483.9L937.3 482.6L937.9 481.2L938.5 479.8L939.1 478.5L939.7 477.1L940.3 475.7L941.0 474.4L941.6 473.0L942.3 471.7L942.9 470.3L943.6 469.0L944.3 467.7L945.0 466.3L945.7 465.0L946.4 463.7L947.2 462.4L947.9 461.1L948.7 459.8L949.4 458.5L950.2 457.2L951.0 455.9L951.8 454.6L952.6 453.3L953.5 452.0L954.3 450.8L955.2 449.5L956.0 448.2L956.9 447.0L957.8 445.7L958.8 444.5L959.7 443.3L960.6 442.0L961.6 440.8L962.6 439.6L963.6 438.4L964.6 437.2L965.6 436.0L966.6 434.8L967.7 433.6L968.8 432.4L969.8 431.3L970.9 430.2L972.1 429.0L973.2 427.9L974.3 426.8L975.5 425.8L976.6 424.7L977.8 423.7L979.0 422.7L980.2 421.7L981.4 420.8L982.7 419.9L983.9 419.0L985.1 418.1L986.4 417.3L987.7 416.5L988.9 415.8L990.2 415.1L991.5 414.4L992.8 413.8L994.1 413.2L995.5 412.6L996.8 412.1L998.1 411.6L999.5 411.2L1000.8 410.9L1002.2 410.6L1003.6 410.3L1004.9 410.1L1006.3 409.9L1007.7 409.8L1009.1 409.8L1010.5 409.8L1011.9 409.9L1013.3 410.0L1014.7 410.2L1016.1 410.4L1017.5 410.7L1018.9 411.0L1020.3 411.4L1021.7 411.8L1023.1 412.3L1024.4 412.8L1025.8 413.3L1027.2 413.9L1028.5 414.5L1029.9 415.2L1031.2 415.9L1032.5 416.6L1033.9 417.3L1035.2 418.1L1036.4 419.0L1037.7 419.8L1039.0 420.7L1040.2 421.6L1041.4 422.5L1042.6 423.4L1043.8 424.4L1044.9 425.4L1046.0 426.4L1047.1 427.4L1048.2 428.5L1049.3 429.5L1050.3 430.6L1051.3 431.7L1052.3 432.8L1053.3 433.9L1054.2 435.0L1055.1 436.2L1056.1 437.3L1056.9 438.5L1057.8 439.7L1058.7 440.9L1059.5 442.1L1060.3 443.4L1061.1 444.6L1061.9 445.8L1062.7 447.1L1063.4 448.4L1064.1 449.7L1064.9 451.0L1065.6 452.3L1066.3 453.6L1066.9 454.9L1067.6 456.2L1068.3 457.6L1068.9 458.9L1069.5 460.3L1070.2 461.6L1070.8 463.0L1071.4 464.4L1072.0 465.8L1072.5 467.2L1073.1 468.6L1073.7 470.0L1074.2 471.4L1074.8 472.8L1075.3 474.2L1075.8 475.6L1076.4 477.1L1076.9 478.5L1077.4 479.9L1077.9 481.4L1078.4 482.8L1078.9 484.3L1079.4 485.7L1079.9 487.1L1080.4 488.6L1080.9 490.0L1081.4 491.5L1081.9 492.9L1082.4 494.4L1082.9 495.8L1083.4 497.3L1083.8 498.7L1084.3 500.2L1084.8 501.6L1085.3 503.1L1085.8 504.5L1086.3 505.9L1086.7 507.4L1087.2 508.8L1087.7 510.3L1088.2 511.7L1088.7 513.2L1089.1 514.6L1089.6 516.1L1090.1 517.5L1090.6 518.9L1091.1 520.4L1091.6 521.8L1092.0 523.3L1092.5 524.7L1093.0 526.1L1093.5 527.6L1094.0 529.0L1094.5 530.4L1095.0 531.9L1095.4 533.3L1095.9 534.7L1096.4 536.2L1096.9 537.6L1097.4 539.0L1097.9 540.5L1098.4 541.9L1098.9 543.3L1099.4 544.7L1099.9 546.2L1100.4 547.6L1100.9 549.0L1101.4 550.4L1101.9 551.8L1102.4 553.3L1103.0 554.7L1103.5 556.1L1104.0 557.5L1104.5 558.9L1105.0 560.3L1105.5 561.7L1106.1 563.1L1106.6 564.5L1107.1 566.0L1107.7 567.4L1108.2 568.8L1108.7 570.2L1109.3 571.5L1109.8 572.9L1110.4 574.3L1110.9 575.7L1111.5 577.1L1112.0 578.5L1112.6 579.9L1113.2 581.3L1113.7 582.7L1114.3 584.0L1114.9 585.4L1115.5 586.8L1116.1 588.2L1116.6 589.5L1117.2 590.9L1117.8 592.3L1118.4 593.6L1119.0 595.0L1119.6 596.3L1120.2 597.7L1120.9 599.1L1121.5 600.4L1122.1 601.8L1122.7 603.1L1123.4 604.5L1124.0 605.8L1124.7 607.1L1125.3 608.5L1126.0 609.8L1126.6 611.1L1127.3 612.5L1127.9 613.8L1128.6 615.1L1129.3 616.4L1130.0 617.8L1130.7 619.1L1131.4 620.4L1132.1 621.7L1132.8 623.0L1133.5 624.3L1134.2 625.6L1134.9 626.9L1135.6 628.2L1136.4 629.5L1137.1 630.8L1137.8 632.1L1138.6 633.4L1139.3 634.6L1140.1 635.9L1140.8 637.2L1141.6 638.5L1142.3 639.7L1143.1 641.0L1143.9 642.3L1144.7 643.6L1145.4 644.8L1146.2 646.1L1147.0 647.3L1147.8 648.6L1148.6 649.8L1149.4 651.1L1150.2 652.3L1151.0 653.6L1151.9 654.8L1152.7 656.1L1153.5 657.3L1154.3 658.6L1155.2 659.8L1156.0 661.0L1156.8 662.3L1157.7 663.5L1158.5 664.7L1159.4 665.9L1160.2 667.2L1161.1 668.4L1161.9 669.6L1162.8 670.8L1163.7 672.0L1164.5 673.2L1165.4 674.4L1166.3 675.6L1167.2 676.8L1168.1 678.1L1169.0 679.3L1169.9 680.4L1170.8 681.6L1171.7 682.8L1172.6 684.0L1173.5 685.2L1174.4 686.4L1175.3 687.6L1176.2 688.8L1177.1 690.0L1178.0 691.1L1179.0 692.3L1179.9 693.5L1180.8 694.7L1181.8 695.8L1182.7 697.0L1183.6 698.2L1184.6 699.3L1185.5 700.5L1186.5 701.7L1187.4 702.8L1188.4 704.0L1189.3 705.2L1190.3 706.3L1191.3 707.5L1192.2 708.6L1193.2 709.8L1194.2 710.9L1195.1 712.1L1196.1 713.2L1197.1 714.4L1198.1 715.5L1199.0 716.6L1200.0 717.8L1201.0 718.9L1202.0 720.1L1203.0 721.2L1204.0 722.3L1205.0 723.4L1206.0 724.6L1207.0 725.7L1208.0 726.8L1209.0 728.0L1210.0 729.1L1211.0 730.2L1212.0 731.3L1213.0 732.4L1214.0 733.6L1215.0 734.7L1216.1 735.8L1217.1 736.9L1218.1 738.0L1219.1 739.1L1220.1 740.2L1221.2 741.3L1222.2 742.4L1223.2 743.6L1224.3 744.7L1225.3 745.8L1226.3 746.9L1227.4 748.0L1228.4 749.1L1229.4 750.2L1230.5 751.3L1231.5 752.4L1232.5 753.5L1233.6 754.6L1234.6 755.7L1235.6 756.8L1236.7 757.8L1237.7 758.9L1238.8 760.0L1239.8 761.1L1240.8 762.2L1241.9 763.3L1242.9 764.4L1244.0 765.5L1245.0 766.6L1246.1 767.7L1247.1 768.8L1248.1 769.9L1249.2 771.0L1250.2 772.1L1251.3 773.1L1252.3 774.2L1253.3 775.3L1254.4 776.4L1255.4 777.5L1256.4 778.6L1257.5 779.7L1258.5 780.8L1259.6 781.9L1260.6 783.0L1261.6 784.1L1262.7 785.2L1263.7 786.3L1264.7 787.4L1265.7 788.5L1266.8 789.6L1267.8 790.7L1268.8 791.8L1269.8 792.9L1270.9 794.0L1271.9 795.1L1272.9 796.2L1273.9 797.3L1274.9 798.4L1275.9 799.5L1277.0 800.6L1278.0 801.7L1279.0 802.9L1280.0 804.0L1281.0 805.1L1282.0 806.2L1283.0 807.3L1284.0 808.4L1285.0 809.6L1285.9 810.7L1286.9 811.8L1287.9 812.9L1288.9 814.1L1289.9 815.2L1290.9 816.3L1291.8 817.5L1292.8 818.6L1293.8 819.7L1294.7 820.9L1295.7 822.0L1296.6 823.2L1297.6 824.3L1298.5 825.5L1299.5 826.6L1300.4 827.8L1301.4 828.9L1302.3 830.1L1303.2 831.3L1304.2 832.4L1305.1 833.6L1306.0 834.8L1306.9 835.9L1307.8 837.1L1308.8 838.3L1309.7 839.5L1310.6 840.6L1311.5 841.8L1312.3 843.0L1313.2 844.2L1314.1 845.4L1315.0 846.6L1315.9 847.8L1316.7 849.0L1317.6 850.2L1318.5 851.4L1319.3 852.6L1320.2 853.9L1321.0 855.1L1321.8 856.3L1322.7 857.5L1323.5 858.8L1324.3 860.0L1325.2 861.2L1326.0 862.5L1326.8 863.7L1327.6 865.0L1328.4 866.2L1329.2 867.5L1330.0 868.7L1330.8 870.0L1331.6 871.3L1332.4 872.5L1333.1 873.8L1333.9 875.1L1334.7 876.3L1335.5 877.6L1336.2 878.9L1337.0 880.2L1337.7 881.4L1338.5 882.7L1339.3 884.0L1340.0 885.3L1340.7 886.6L1341.5 887.9L1342.2 889.2L1343.0 890.5L1343.7 891.8L1344.4 893.1L1345.2 894.4L1345.9 895.7L1346.6 897.0L1347.4 898.3L1348.1 899.6L1348.8 900.9L1349.5 902.2L1350.2 903.5L1350.9 904.8L1351.7 906.1L1352.4 907.5L1353.1 908.8L1353.8 910.1L1354.5 911.4L1355.2 912.7L1355.9 914.1L1356.6 915.4L1357.3 916.7L1358.0 918.0L1358.7 919.3L1359.4 920.7L1360.1 922.0L1360.8 923.3L1361.5 924.6L1362.2 926.0L1362.9 927.3L1363.6 928.6L1364.3 929.9L1365.0 931.3L1365.7 932.6L1366.4 933.9L1367.1 935.3L1367.8 936.6L1368.5 937.9L1369.2 939.2L1369.9 940.6L1370.6 941.9L1371.3 943.2L1372.0 944.6L1372.7 945.9L1373.4 947.2L1374.1 948.5L1374.8 949.9L1375.5 951.2L1376.2 952.5L1376.9 953.8L1377.7 955.1L1378.4 956.5L1379.1 957.8L1379.8 959.1L1380.5 960.4L1381.2 961.8L1381.9 963.1L1382.6 964.4L1383.4 965.7L1384.1 967.0L1384.8 968.4L1385.5 969.7L1386.2 971.0L1387.0 972.3L1387.7 973.6L1388.4 974.9L1389.1 976.2L1389.9 977.6L1390.6 978.9L1391.3 980.2L1392.0 981.5L1392.8 982.8L1393.5 984.1L1394.2 985.4L1395.0 986.7L1395.7 988.0L1396.4 989.4L1397.2 990.7L1397.9 992.0L1398.7 993.3L1399.4 994.6L1400.1 995.9L1400.9 997.2L1401.6 998.5L1402.4 999.8L1403.1 1001.1L1403.9 1002.4L1404.6 1003.7L1405.4 1005.0L1406.1 1006.3L1406.9 1007.6L1407.6 1008.9L1408.4 1010.2L1409.1 1011.5L1409.9 1012.8L1410.7 1014.1L1411.4 1015.4L1412.2 1016.6L1412.9 1017.9L1413.7 1019.2L1414.5 1020.5L1415.2 1021.8L1416.0 1023.1L1416.8 1024.4L1417.6 1025.7L1418.3 1026.9L1419.1 1028.2L1419.9 1029.5L1420.7 1030.8L1421.4 1032.1L1422.2 1033.4L1423.0 1034.6L1423.8 1035.9L1424.6 1037.2L1425.3 1038.5L1426.1 1039.7L1426.9 1041.0L1427.7 1042.3L1428.5 1043.5L1429.3 1044.8L1430.1 1046.1L1430.9 1047.4L1431.7 1048.6L1432.5 1049.9L1433.3 1051.2L1434.1 1052.4L1434.9 1053.7L1435.7 1054.9L1436.5 1056.2L1437.3 1057.5L1438.1 1058.7L1438.9 1060.0L1439.7 1061.2L1440.6 1062.5L1441.4 1063.7L1442.2 1065.0L1443.0 1066.2L1443.8 1067.5L1444.7 1068.7L1445.5 1070.0L1446.3 1071.2L1447.1 1072.5L1448.0 1073.7L1448.8 1075.0L1449.6 1076.2L1450.5 1077.5L1451.3 1078.7L1452.1 1079.9L1453.0 1081.2L1453.8 1082.4L1454.7 1083.6L1455.5 1084.9L1456.3 1086.1L1457.2 1087.3L1458.0 1088.6L1458.9 1089.8L1459.8 1091.0L1460.6 1092.2L1461.5 1093.5L1462.3 1094.7L1463.2 1095.9L1464.0 1097.1L1464.9 1098.3L1465.8 1099.5L1466.6 1100.8L1467.5 1102.0L1468.4 1103.2L1469.3 1104.4L1470.1 1105.6L1471.0 1106.8L1471.9 1108.0L1472.8 1109.2L1473.7 1110.4L1474.5 1111.6L1475.4 1112.8L1476.3 1114.0L1477.2 1115.2L1478.1 1116.4L1479.0 1117.6L1479.9 1118.8L1480.8 1120.0L1481.7 1121.2L1482.6 1122.4L1483.5 1123.6L1484.4 1124.7L1485.3 1125.9L1486.2 1127.1L1487.1 1128.3L1488.0 1129.5L1489.0 1130.6L1489.9 1131.8L1490.8 1133.0L1491.7 1134.2L1492.6 1135.3L1493.6 1136.5L1494.5 1137.7L1495.4 1138.8L1496.4 1140.0L1497.3 1141.2L1498.2 1142.3L1499.2 1143.5L1500.1 1144.6L1501.1 1145.8L1502.0 1146.9L1502.9 1148.1L1503.9 1149.2L1504.8 1150.4L1505.8 1151.5L1506.8 1152.7L1507.7 1153.8L1508.7 1155.0L1509.6 1156.1L1510.6 1157.2L1511.6 1158.4L1512.5 1159.5L1513.5 1160.6L1514.5 1161.8L1515.5 1162.9L1516.4 1164.0L1517.4 1165.1L1518.4 1166.3L1519.4 1167.4L1520.4 1168.5L1521.4 1169.6L1522.4 1170.7L1523.4 1171.8L1524.3 1172.9L1525.3 1174.1L1526.3 1175.2L1527.4 1176.3L1528.4 1177.4L1529.4 1178.5L1530.4 1179.6L1531.4 1180.7L1532.4 1181.8L1533.4 1182.9L1534.4 1183.9L1535.5 1185.0L1536.5 1186.1L1537.5 1187.2L1538.5 1188.3L1539.6 1189.4L1540.6 1190.4L1541.6 1191.5L1542.7 1192.6L1543.7 1193.7L1544.8 1194.7L1545.8 1195.8L1546.9 1196.9L1547.9 1197.9L1549.0 1199.0L1550.0 1200.1L1551.1 1201.1L1552.1 1202.2L1553.2 1203.2L1554.3 1204.3L1555.3 1205.3L1556.4 1206.4L1557.5 1207.4L1558.5 1208.5L1559.6 1209.5L1560.7 1210.6L1561.8 1211.6L1562.8 1212.7L1563.9 1213.7L1565.0 1214.7L1566.1 1215.8L1567.2 1216.8L1568.3 1217.8L1569.4 1218.8L1570.5 1219.9L1571.5 1220.9L1572.6 1221.9L1573.7 1222.9L1574.8 1224.0L1575.9 1225.0L1577.0 1226.0L1578.2 1227.0L1579.3 1228.0L1580.4 1229.0L1581.5 1230.0L1582.6 1231.1L1583.7 1232.1L1584.8 1233.1L1585.9 1234.1L1587.1 1235.1L1588.2 1236.1L1589.3 1237.1L1590.4 1238.1L1591.6 1239.1L1592.7 1240.1L1593.8 1241.0L1594.9 1242.0L1596.1 1243.0L1597.2 1244.0L1598.3 1245.0L1599.5 1246.0L1600.6 1247.0L1601.8 1247.9L1602.9 1248.9L1604.0 1249.9L1605.2 1250.9L1606.3 1251.8L1607.5 1252.8L1608.6 1253.8L1609.8 1254.8L1610.9 1255.7L1612.1 1256.7L1613.2 1257.7L1614.4 1258.6L1615.6 1259.6L1616.7 1260.6L1617.9 1261.5L1619.0 1262.5L1620.2 1263.4L1621.4 1264.4L1622.5 1265.3L1623.7 1266.3L1624.8 1267.2L1626.0 1268.2L1627.2 1269.1L1628.4 1270.1L1629.5 1271.0L1630.7 1272.0L1631.9 1272.9L1633.0 1273.9L1634.2 1274.8L1635.4 1275.8L1636.6 1276.7L1637.8 1277.6L1638.9 1278.6L1640.1 1279.5L1641.3 1280.4L1642.5 1281.4L1643.7 1282.3L1644.8 1283.2L1646.0 1284.2L1647.2 1285.1L1648.4 1286.0L1649.6 1286.9L1650.8 1287.9L1652.0 1288.8L1653.2 1289.7L1654.3 1290.6L1655.5 1291.5L1656.7 1292.5L1657.9 1293.4L1659.1 1294.3L1660.3 1295.2L1661.5 1296.1L1662.7 1297.0L1663.9 1297.9L1665.1 1298.9L1666.3 1299.8L1667.5 1300.7L1668.7 1301.6L1669.9 1302.5L1671.1 1303.4L1672.3 1304.3L1673.5 1305.2L1674.7 1306.1L1675.9 1307.0L1677.1 1307.9L1678.3 1308.8L1679.5 1309.7L1680.7 1310.6L1681.9 1311.5L1683.1 1312.4L1684.3 1313.2L1685.6 1314.1L1686.8 1315.0L1688.0 1315.9L1689.2 1316.8L1690.4 1317.6L1691.6 1318.5L1692.9 1319.4L1694.1 1320.2L1695.3 1321.1L1696.5 1322.0L1697.7 1322.8L1699.0 1323.7L1700.2 1324.5L1701.4 1325.4L1702.7 1326.2L1703.9 1327.1L1705.1 1327.9L1706.4 1328.8L1707.6 1329.6L1708.8 1330.4L1710.1 1331.3L1711.3 1332.1L1712.6 1332.9L1713.8 1333.7L1715.1 1334.5L1716.3 1335.3L1717.6 1336.1L1718.8 1336.9L1720.1 1337.7L1721.3 1338.5L1722.6 1339.3L1723.8 1340.1L1725.1 1340.9L1726.4 1341.7L1727.6 1342.4L1728.9 1343.2L1730.2 1344.0L1731.5 1344.7L1732.7 1345.5L1734.0 1346.2L1735.3 1347.0L1736.6 1347.7L1737.9 1348.4L1739.2 1349.2L1740.5 1349.9L1741.8 1350.6L1743.1 1351.3L1744.4 1352.0L1745.7 1352.7L1747.0 1353.4L1748.3 1354.1L1749.6 1354.8L1750.9 1355.5L1752.2 1356.1L1753.5 1356.8L1754.9 1357.4L1756.2 1358.1L1757.5 1358.8L1758.8 1359.4L1760.2 1360.0L1761.5 1360.7L1762.9 1361.3L1764.2 1361.9L1765.5 1362.5L1766.9 1363.1L1768.3 1363.7L1769.6 1364.3L1771.0 1364.9L1772.3 1365.5L1773.7 1366.0L1775.1 1366.6L1776.4 1367.1L1777.8 1367.7L1779.2 1368.2L1780.6 1368.8L1782.0 1369.3L1783.4 1369.8L1784.8 1370.3L1786.2 1370.8L1787.6 1371.3L1789.0 1371.8L1790.4 1372.3L1791.8 1372.8L1793.2 1373.2L1794.6 1373.7L1796.1 1374.1L1797.5 1374.6L1798.9 1375.0L1800.4 1375.4L1801.8 1375.8L1803.2 1376.2L1804.7 1376.6L1806.1 1377.0L1807.6 1377.4L1809.1 1377.8L1810.5 1378.1L1812.0 1378.5L1813.5 1378.8L1814.9 1379.2L1816.4 1379.5L1817.9 1379.8L1819.4 1380.1L1820.9 1380.4L1822.4 1380.7L1823.9 1381.0L1825.4 1381.3L1826.9 1381.5L1828.5 1381.8L1830.0 1382.0L1831.5 1382.3L1833.0 1382.5L1834.6 1382.7L1836.1 1382.9L1837.7 1383.1L1839.2 1383.3L1840.8 1383.5L1842.3 1383.6L1843.9 1383.8L1845.5 1383.9"/>
</g>
<g stroke="#000" stroke-width="5.5" fill="none">
<rect x="161.4" y="40.7" width="1684.6" height="1358.0"/>
<line x1="161.40" y1="1398.7" x2="161.40" y2="1425.8"/><line x1="254.99" y1="1398.7" x2="254.99" y2="1412.3"/><line x1="348.58" y1="1398.7" x2="348.58" y2="1425.8"/><line x1="442.17" y1="1398.7" x2="442.17" y2="1412.3"/><line x1="535.76" y1="1398.7" x2="535.76" y2="1425.8"/><line x1="629.34" y1="1398.7" x2="629.34" y2="1412.3"/><line x1="722.93" y1="1398.7" x2="722.93" y2="1425.8"/><line x1="816.52" y1="1398.7" x2="816.52" y2="1412.3"/><line x1="910.11" y1="1398.7" x2="910.11" y2="1425.8"/><line x1="1003.70" y1="1398.7" x2="1003.70" y2="1412.3"/><line x1="1097.29" y1="1398.7" x2="1097.29" y2="1425.8"/><line x1="1190.88" y1="1398.7" x2="1190.88" y2="1412.3"/><line x1="1284.47" y1="1398.7" x2="1284.47" y2="1425.8"/><line x1="1378.06" y1="1398.7" x2="1378.06" y2="1412.3"/><line x1="1471.64" y1="1398.7" x2="1471.64" y2="1425.8"/><line x1="1565.23" y1="1398.7" x2="1565.23" y2="1412.3"/><line x1="1658.82" y1="1398.7" x2="1658.82" y2="1425.8"/><line x1="1752.41" y1="1398.7" x2="1752.41" y2="1412.3"/><line x1="1846.00" y1="1398.7" x2="1846.00" y2="1425.8"/>
</g>
<g font-size="58">
<text x="161.40" y="1487.6" text-anchor="middle">400</text><text x="348.58" y="1487.6" text-anchor="middle">500</text><text x="535.76" y="1487.6" text-anchor="middle">600</text><text x="722.93" y="1487.6" text-anchor="middle">700</text><text x="910.11" y="1487.6" text-anchor="middle">800</text><text x="1097.29" y="1487.6" text-anchor="middle">900</text><text x="1284.47" y="1487.6" text-anchor="middle">1000</text><text x="1471.64" y="1487.6" text-anchor="middle">1100</text><text x="1658.82" y="1487.6" text-anchor="middle">1200</text><text x="1846.00" y="1487.6" text-anchor="middle">1300</text>
</g>
<text x="693.4" y="1610.5" font-size="71" letter-spacing="-0.14">Wavenumber [cm</text>
<text x="1242.7" y="1580.5" font-size="46" letter-spacing="-3.3">&#8722;1</text>
<text x="1298.1" y="1610.5" font-size="71">]</text>
<text transform="translate(104.2 1180.6) rotate(-90)" x="0" y="0" font-size="71" letter-spacing="-0.2">Normalized absorbance [a.u.]</text>
<g stroke-width="7.4" fill="none">
<line x1="1048" y1="109.6" x2="1211" y2="109.6" stroke="#000"/>
<line x1="1048" y1="205.9" x2="1211" y2="205.9" stroke="#ee3b3b"/>
<line x1="1048" y1="301.2" x2="1211" y2="301.2" stroke="#1e6fe0"/>
</g>
<g font-size="71">
<text x="1229.7" y="133.6" letter-spacing="-0.43">15ZnO_as melted</text>
<text x="1230" y="228.9" letter-spacing="-0.75">15ZnO_650</text>
<text x="1600" y="201" font-size="48">0</text>
<text x="1626.8" y="228.9">C_3h</text>
<text x="1230" y="323.8" letter-spacing="-0.75">15ZnO_650</text>
<text x="1600" y="295.9" font-size="48">0</text>
<text x="1626.8" y="323.8">C_5h</text>
</g>
</svg>
</body></html>
